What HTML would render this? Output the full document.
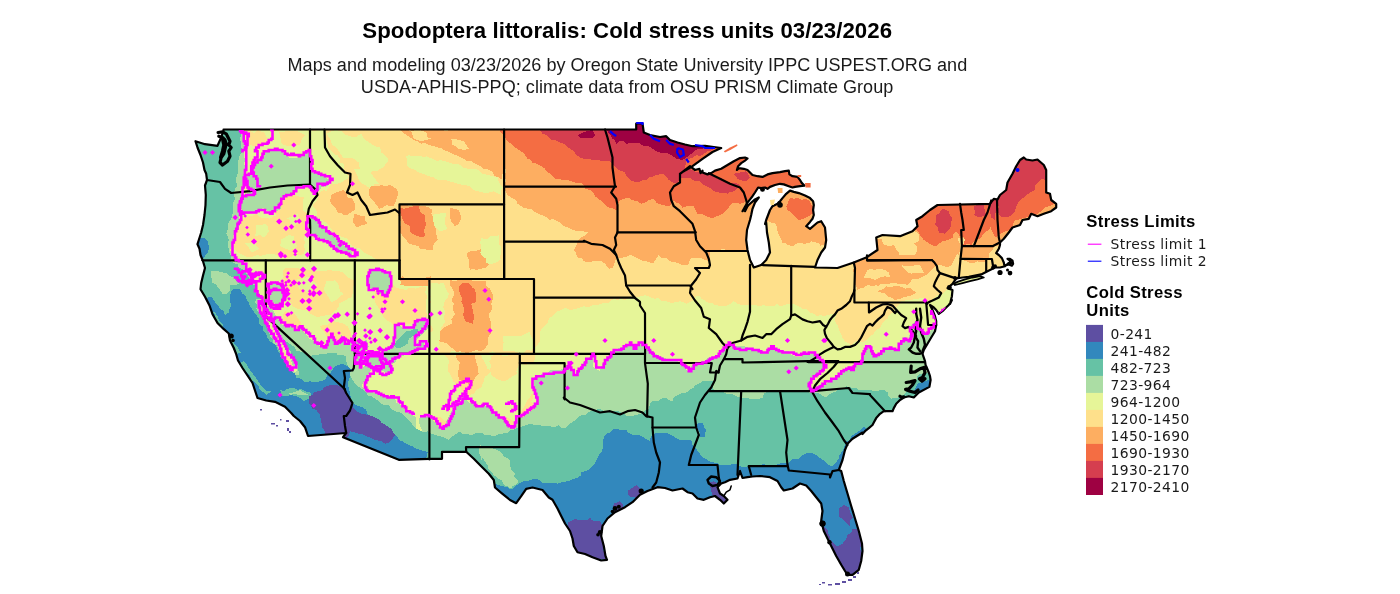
<!DOCTYPE html>
<html><head><meta charset="utf-8"><title>Spodoptera littoralis: Cold stress units</title>
<style>html,body{margin:0;padding:0;background:#fff}svg{display:block}</style></head>
<body>
<svg width="1400" height="594" viewBox="0 0 1400 594">
<rect width="1400" height="594" fill="#fff"/>
<defs><clipPath id="us"><path d="M223.5,129.5 L636.2,129.5 L636.2,123.5 L642.5,123.5 L643.8,132.5 L650,135 L660,137 L666.2,136.2 L670,140 L677.5,142.5 L685,144.5 L692.5,146.2 L705,145.8 L713.8,147 L721.2,148 L712.5,152 L702.5,158.8 L692.5,166.2 L683.8,171.2 L680,173.8 L690,166.2 L695,170 L699.4,168.8 L700.6,173.1 L702.5,170.6 L702.5,172.5 L707.5,174.4 L711.2,173.1 L715,170.6 L721.2,168.8 L727.5,165 L733.8,161.2 L740,158.1 L745,157.5 L747.5,158.5 L745,160.6 L741.2,163.1 L738.1,166.2 L736.9,170 L738.8,168.1 L743.8,168.8 L747.5,170 L750,172.5 L752.5,175 L757.5,176.2 L762.5,176.9 L767.5,174.4 L772.5,173.1 L780,172.2 L785,171.2 L788.8,170.6 L789.4,174.4 L792.5,176.2 L797.5,176.9 L800,180 L801.9,183.1 L804.4,185.6 L800,186.2 L795,186.9 L792.5,187.5 L788.8,186.2 L783.8,184.4 L780,183.8 L775,185 L770,186.9 L767.5,188.8 L765,187.5 L761.2,188.1 L758.1,187.5 L755,192.5 L752.5,196.2 L750,199.4 L747.5,202.5 L745,206.9 L742.5,211.2 L745.6,207.8 L750,203.8 L755,199.4 L758.8,197.5 L755,202.5 L752.5,208.8 L751.2,215 L750,220 L748.8,224 L747,230 L746.2,240 L747.5,250 L750,260 L753.8,267.5 L761.2,265 L766.2,260 L770,252.5 L768.8,242.5 L767,232.5 L766.2,222.5 L765,224 L766.2,220 L768.1,215 L770,210 L772.5,206.2 L777.5,203.8 L780,201.2 L782.5,198.1 L786.2,193.8 L790,190.6 L793.8,191.9 L798.8,193.1 L805,195.6 L810,198.1 L813.1,201.2 L813.8,205 L813.1,210 L813.8,215 L812.5,218.8 L810,221.9 L806.2,226.2 L810,228.8 L817.5,222.5 L821.2,221.2 L825,227.5 L826.2,240 L825,247.5 L821.2,252.5 L817.5,260 L815,267.5 L837.5,268 L853.8,262.5 L866.2,257.5 L877.5,250 L876.2,237.5 L882.5,235 L900,236.2 L912.5,231.2 L917.5,226.2 L916.2,220 L922.5,216.2 L930,210 L937.5,205 L990,203.8 L993.8,198.8 L997.5,199.5 L1000,195 L1006.2,190 L1007.5,182.5 L1012.5,173.8 L1016.2,166.2 L1020,160 L1023.8,157.5 L1026.2,159.5 L1032.5,160.5 L1037.5,159.5 L1043.8,165 L1046.2,170 L1046.2,192.5 L1050,193.8 L1051.2,200 L1056.2,203.8 L1056.2,207.5 L1051.2,211.2 L1043.8,213.8 L1037.5,216.2 L1031.2,213.8 L1028.8,218.8 L1022.5,220 L1020,225 L1012.5,227.5 L1008.8,232.5 L1003.8,238.8 L1000,242.5 L1000,243.1 L1000,245 L998.8,248.8 L996.2,253.1 L998.8,255 L1001.9,258.1 L1003.8,262.5 L1004.4,265.6 L1008.8,264.4 L1011.9,265.6 L1013.1,263.8 L1012.5,260.6 L1010,258.8 L1007.5,258.8 L1010,260.6 L1011,263.1 L1008.8,262.8 L1005,266.2 L1000,267.5 L995,267.5 L992.5,268.8 L987.5,271.2 L981.2,274.4 L975,275.6 L968.8,276.9 L962.5,277.5 L956.2,278.5 L952.5,283.8 L947.5,288.1 L952.5,290 L951.9,296.2 L950,304 L951.9,300 L948.8,305 L946.2,307.5 L942.5,311.2 L938.8,313.8 L936.2,310 L933.8,307.5 L930,305 L932.5,310 L935,316.2 L936.2,321.2 L936.2,325 L935,331.2 L931.2,337.5 L927.5,343.8 L923.8,350 L922.5,353.8 L925,361.2 L926.2,369 L926.2,366.2 L928.8,372.5 L930,376.2 L930.6,380 L929.4,386.9 L918.8,392.5 L913.8,397.5 L908.8,396.2 L903.8,397.5 L900,400 L896.2,403.8 L893.8,408.1 L892.5,411.2 L883.8,411.2 L880,413.8 L876.2,418.1 L873.8,422.5 L872.5,425 L868.8,428.1 L865,431.2 L862.5,434 L862.5,432.5 L852.5,438.8 L847.5,443.8 L845,450 L842.5,460 L838.8,470 L841.2,471 L843.8,481 L847.5,493.5 L851.2,506 L855,518.5 L858.8,531 L862,543.5 L862.5,551 L861.2,561 L858.8,569.8 L852.5,574.8 L847.5,574.8 L845,571 L841.2,564.8 L836.2,556 L831.2,546 L827.5,538.5 L823.8,531 L821.2,521 L822.5,511 L821.2,503.5 L816.2,497.2 L811.2,491 L806.2,485.5 L800,483.5 L792.5,488.5 L783.8,490.5 L781.2,487.2 L777.5,481 L770,477.2 L760,476 L752.5,476.5 L747.5,477.2 L742.5,478 L740,471 L737.5,478.5 L730,479.8 L725,482.2 L721.2,483.5 L717.5,487.2 L720,493.5 L723.8,496 L727.5,499.8 L723.8,503.5 L720,499.8 L715,496 L710,497.2 L703.8,499.8 L697.5,498.5 L692.5,493.5 L687.5,492.2 L682.5,488.5 L672.5,490.5 L665,488 L657.5,487.2 L647.5,491 L640,494.8 L632.5,502.2 L625,507.2 L615,512.2 L607.5,518.5 L602.5,526 L601.2,536 L603.8,546 L605.5,556 L607,559.8 L601.2,560.5 L592.5,557.2 L585,554 L577.5,552.2 L573.8,546 L572.5,538.5 L570,531 L565,523.5 L561.2,516 L557.5,508.5 L552.5,499.8 L548.8,497.5 L542.5,490 L532.5,487.5 L526.2,488.8 L521.2,496.2 L516.2,503.2 L510,500 L502.5,493.8 L495,487.5 L493.8,480 L488.8,473.8 L481.2,466.2 L473.8,458.8 L466.2,451.8 L442,451.8 L442,458.8 L429.2,458.8 L398.8,459.8 L343,437.2 L346.2,433 L308,436 L305,427.2 L300,421 L293.8,416 L291.2,413 L285,406.8 L275,401.8 L266.2,400.5 L257.5,398 L255,390.5 L252.5,383 L247.5,375.5 L242.5,368 L238,360.5 L236.2,354.2 L233.8,348 L230,340.5 L228.8,333.5 L223.8,329.2 L217.5,323 L212.5,314.2 L209.5,305.5 L205,296.8 L200.5,289.2 L201.2,283 L203,275.5 L205,268 L203,261.2 L200.5,255 L199.5,248.8 L197.5,244.2 L198.8,240 L201.2,232.5 L203,225 L204.5,215 L205.5,205 L205.8,195 L205,185.5 L207,180 L206.2,173.8 L204.5,170 L203,162.5 L200.5,155 L197.5,147.5 L195.5,141.2 L205,144.2 L217.5,145.8 L221.2,137.5 L223.8,129.5Z"/></clipPath></defs>
<g clip-path="url(#us)" shape-rendering="crispEdges">
<rect width="1400" height="594" fill="#FEE08B"/>
<path d="M233.75,128.75 238.75,130 242.5,130 247.5,130 248.75,128.75 250,131.25 256.25,130 258.75,130 261.25,128.75 265,128.75 270,130 272.5,131.25 276.25,131.25 281.25,130 285,128.75 286.25,128.75 291.25,128.75 293.75,130 298.75,128.75 302.5,130 307.5,128.75 310,130 313.75,131.25 317.5,130 320,130 323.75,128.75 326.25,132.5 326.25,138.75 327.5,143.75 327.5,146.25 330,150 332.5,152.5 335,155 337.5,155 340,158.75 340,162.5 343.75,163.75 343.75,168.75 345,171.25 348.75,176.25 347.5,178.75 345,180 341.25,182.5 337.5,183.75 332.5,183.75 331.25,183.75 328.75,187.5 326.25,191.25 322.5,196.25 317.5,200 316.25,201.25 312.5,205 313.75,207.5 316.25,210 317.5,216.25 320,218.75 323.75,221.25 326.25,222.5 328.75,225 330,227.5 333.75,232.5 337.5,235 340,236.25 343.75,237.5 347.5,238.75 348.75,241.25 351.25,245 356.25,247.5 357.5,247.5 360,248.75 363.75,252.5 368.75,255 371.25,256.25 375,258.75 377.5,260 380,261.25 383.75,261.25 387.5,261.25 392.5,261.25 398.75,261.25 397.5,263.75 397.5,266.25 397.5,271.25 397.5,275 398.75,278.75 401.25,278.75 405,277.5 408.75,280 412.5,278.75 416.25,278.75 421.25,280 423.75,278.75 427.5,278.75 427.5,282.5 427.5,287.5 427.5,292.5 431.25,295 432.5,300 433.75,305 438.75,306.25 443.75,307.5 445,312.5 443.75,317.5 445,321.25 445,325 447.5,326.25 445,328.75 443.75,333.75 442.5,338.75 441.25,343.75 440,346.25 437.5,351.25 437.5,355 432.5,357.5 431.25,361.25 432.5,362.5 432.5,366.25 433.75,368.75 431.25,375 430,377.5 430,382.5 431.25,387.5 430,388.75 430,392.5 430,397.5 431.25,398.75 430,401.25 430,406.25 430,410 428.75,415 428.75,418.75 430,420 430,425 428.75,427.5 428.75,431.25 428.75,433.75 428.75,436.25 428.75,441.25 431.25,443.75 428.75,447.5 431.25,450 431.25,453.75 430,456.25 430,460 431.25,465 430,467.5 431.25,471.25 431.25,477.5 431.25,480 428.75,478.75 425,480 421.25,478.75 416.25,478.75 413.75,480 410,481.25 406.25,480 402.5,478.75 397.5,477.5 392.5,478.75 391.25,481.25 387.5,482.5 383.75,481.25 380,481.25 377.5,482.5 375,481.25 372.5,481.25 367.5,482.5 363.75,480 361.25,481.25 357.5,481.25 353.75,480 351.25,480 347.5,480 342.5,481.25 338.75,482.5 333.75,481.25 332.5,480 327.5,480 325,480 321.25,480 318.75,481.25 315,480 312.5,478.75 308.75,481.25 305,481.25 302.5,480 298.75,478.75 293.75,478.75 291.25,478.75 286.25,478.75 282.5,480 281.25,480 275,480 271.25,478.75 267.5,477.5 265,480 262.5,481.25 257.5,482.5 255,480 251.25,478.75 247.5,480 243.75,478.75 241.25,480 236.25,480 233.75,478.75 231.25,477.5 230,475 228.75,471.25 230,467.5 230,463.75 230,462.5 231.25,458.75 232.5,455 230,451.25 232.5,447.5 230,445 231.25,442.5 231.25,438.75 230,435 232.5,431.25 232.5,427.5 230,423.75 230,420 228.75,415 227.5,413.75 228.75,411.25 230,407.5 231.25,405 232.5,401.25 232.5,396.25 232.5,393.75 232.5,391.25 232.5,387.5 231.25,383.75 230,380 231.25,375 230,371.25 230,367.5 228.75,363.75 227.5,360 227.5,356.25 227.5,353.75 228.75,350 231.25,346.25 232.5,342.5 231.25,340 231.25,335 231.25,332.5 231.25,328.75 230,325 231.25,322.5 232.5,320 232.5,315 230,313.75 230,310 231.25,305 230,301.25 228.75,296.25 230,293.75 230,291.25 228.75,287.5 228.75,283.75 228.75,281.25 230,277.5 228.75,275 230,268.75 231.25,266.25 231.25,261.25 228.75,258.75 230,253.75 231.25,250 231.25,248.75 232.5,246.25 230,242.5 228.75,240 227.5,233.75 230,230 230,228.75 230,225 231.25,222.5 231.25,216.25 232.5,213.75 231.25,211.25 230,206.25 228.75,202.5 228.75,198.75 228.75,195 227.5,193.75 227.5,191.25 228.75,186.25 227.5,182.5 227.5,178.75 230,176.25 231.25,172.5 231.25,170 232.5,165 232.5,162.5 231.25,158.75 230,153.75 227.5,151.25 228.75,148.75 231.25,143.75 231.25,141.25 231.25,136.25 232.5,132.5 231.25,131.25Z" fill="#E6F598"/>
<path d="M247.5,130 252.5,132.5 255,132.5 257.5,130 260,131.25 263.75,132.5 265,133.75 267.5,138.75 266.25,141.25 263.75,146.25 258.75,146.25 253.75,146.25 250,145 248.75,143.75 248.75,138.75 247.5,135Z" fill="#FEE08B"/>
<path d="M278.75,131.25 281.25,132.5 286.25,131.25 290,131.25 292.5,131.25 297.5,131.25 302.5,133.75 305,135 301.25,140 300,145 295,145 288.75,146.25 283.75,145 281.25,142.5 280,135Z" fill="#FEE08B"/>
<path d="M276.25,197.5 280,197.5 282.5,195 286.25,193.75 290,195 295,195 297.5,196.25 303.75,197.5 302.5,202.5 302.5,207.5 302.5,211.25 302.5,215 300,218.75 297.5,221.25 291.25,221.25 287.5,225 285,222.5 280,218.75 276.25,218.75 276.25,216.25 275,212.5 272.5,208.75 272.5,202.5Z" fill="#FEE08B"/>
<path d="M243.75,218.75 248.75,216.25 251.25,216.25 256.25,213.75 258.75,216.25 261.25,217.5 265,217.5 270,218.75 273.75,216.25 277.5,215 281.25,213.75 285,211.25 287.5,210 291.25,210 297.5,208.75 300,210 306.25,212.5 307.5,215 307.5,217.5 307.5,222.5 307.5,226.25 308.75,232.5 306.25,235 303.75,237.5 303.75,240 305,242.5 303.75,246.25 305,248.75 303.75,253.75 301.25,255 297.5,255 295,255 292.5,256.25 290,257.5 286.25,257.5 281.25,257.5 276.25,255 273.75,253.75 268.75,253.75 263.75,255 260,256.25 257.5,255 253.75,256.25 251.25,257.5 245,256.25 240,253.75 236.25,251.25 233.75,246.25 232.5,242.5 233.75,237.5 233.75,233.75 235,230 236.25,225 237.5,222.5 238.75,221.25Z" fill="#FEE08B"/>
<path d="M256.25,225 261.25,225 265,223.75 267.5,226.25 268.75,231.25 266.25,235 263.75,237.5 260,235 255,236.25 256.25,230Z" fill="#E6F598"/>
<path d="M281.25,238.75 282.5,238.75 288.75,235 293.75,236.25 293.75,240 295,242.5 297.5,246.25 295,248.75 290,250 285,248.75 280,246.25 281.25,241.25Z" fill="#E6F598"/>
<path d="M243.75,242.5 251.25,242.5 255,240 256.25,246.25 258.75,248.75 255,251.25 251.25,252.5 248.75,247.5 247.5,246.25Z" fill="#E6F598"/>
<path d="M286.25,218.75 292.5,216.25 297.5,213.75 298.75,217.5 300,222.5 296.25,223.75 293.75,227.5 290,223.75 290,220Z" fill="#E6F598"/>
<path d="M318.75,192.5 323.75,190 327.5,191.25 331.25,188.75 336.25,187.5 338.75,190 342.5,192.5 347.5,193.75 351.25,193.75 352.5,196.25 357.5,198.75 358.75,201.25 362.5,205 365,207.5 366.25,208.75 366.25,213.75 368.75,215 373.75,216.25 378.75,216.25 383.75,216.25 387.5,216.25 391.25,213.75 393.75,213.75 398.75,215 398.75,218.75 398.75,223.75 398.75,226.25 397.5,230 393.75,231.25 392.5,231.25 388.75,230 385,232.5 381.25,232.5 376.25,231.25 371.25,231.25 368.75,232.5 366.25,230 361.25,232.5 357.5,235 355,235 352.5,233.75 348.75,232.5 345,232.5 338.75,227.5 333.75,226.25 331.25,223.75 327.5,218.75 327.5,216.25 323.75,211.25 322.5,210 318.75,207.5 315,203.75 317.5,198.75Z" fill="#FEE08B"/>
<path d="M331.25,195 336.25,192.5 340,191.25 343.75,190 346.25,192.5 347.5,197.5 352.5,198.75 355,203.75 355,210 352.5,211.25 347.5,215 343.75,215 340,212.5 337.5,212.5 335,207.5 331.25,203.75 330,201.25Z" fill="#FDAE61"/>
<path d="M353.75,213.75 358.75,215 361.25,216.25 365,216.25 365,220 367.5,223.75 362.5,225 356.25,227.5 355,225 352.5,221.25 353.75,217.5Z" fill="#FDAE61"/>
<path d="M370,235 373.75,236.25 378.75,236.25 381.25,233.75 383.75,233.75 390,233.75 392.5,232.5 395,232.5 400,231.25 400,235 400,238.75 397.5,243.75 397.5,247.5 400,252.5 401.25,256.25 398.75,258.75 396.25,258.75 390,260 387.5,260 383.75,258.75 380,257.5 377.5,256.25 373.75,252.5 372.5,251.25 371.25,246.25 371.25,241.25 368.75,238.75Z" fill="#FEE08B"/>
<path d="M326.25,133.75 331.25,131.25 336.25,130 341.25,131.25 343.75,133.75 346.25,135 350,136.25 355,137.5 361.25,133.75 363.75,138.75 367.5,141.25 371.25,143.75 372.5,145 375,146.25 380,147.5 381.25,152.5 386.25,156.25 388.75,160 385,165 382.5,167.5 380,168.75 377.5,171.25 372.5,171.25 368.75,172.5 365,171.25 361.25,170 358.75,166.25 358.75,162.5 355,160 353.75,158.75 348.75,157.5 342.5,157.5 341.25,155 338.75,151.25 336.25,147.5 332.5,145 330,138.75 327.5,135Z" fill="#E6F598"/>
<path d="M353.75,168.75 358.75,168.75 362.5,170 368.75,172.5 370,171.25 373.75,177.5 375,178.75 378.75,183.75 375,183.75 371.25,188.75 366.25,186.25 365,185 362.5,183.75 358.75,180 357.5,176.25Z" fill="#E6F598"/>
<path d="M406.25,156.25 408.75,155 412.5,156.25 418.75,156.25 421.25,156.25 425,157.5 426.25,156.25 432.5,158.75 437.5,161.25 440,160 445,161.25 448.75,162.5 452.5,163.75 456.25,163.75 460,165 462.5,167.5 467.5,168.75 470,168.75 475,168.75 477.5,170 480,171.25 482.5,173.75 488.75,175 492.5,176.25 497.5,177.5 498.75,182.5 502.5,187.5 501.25,190 501.25,195 496.25,192.5 493.75,191.25 488.75,192.5 487.5,192.5 482.5,192.5 477.5,191.25 473.75,190 470,186.25 465,185 461.25,185 460,183.75 457.5,183.75 453.75,182.5 448.75,181.25 445,180 442.5,180 437.5,180 433.75,177.5 428.75,176.25 423.75,173.75 422.5,173.75 418.75,172.5 415,170 408.75,167.5 406.25,165 407.5,162.5Z" fill="#E6F598"/>
<path d="M396.25,130 400,130 402.5,132.5 406.25,135 408.75,136.25 413.75,140 417.5,141.25 421.25,143.75 423.75,142.5 428.75,145 433.75,146.25 437.5,147.5 441.25,147.5 443.75,150 447.5,151.25 452.5,153.75 455,155 458.75,156.25 463.75,158.75 466.25,161.25 471.25,161.25 475,163.75 478.75,165 483.75,168.75 486.25,168.75 491.25,171.25 492.5,172.5 495,176.25 498.75,177.5 501.25,180 502.5,173.75 503.75,171.25 503.75,167.5 505,163.75 505,161.25 505,156.25 503.75,152.5 505,150 503.75,145 503.75,140 505,135 503.75,131.25 502.5,130 498.75,128.75 497.5,130 492.5,128.75 487.5,128.75 485,128.75 483.75,127.5 478.75,127.5 475,128.75 472.5,127.5 467.5,127.5 463.75,128.75 460,130 456.25,128.75 453.75,128.75 448.75,130 446.25,131.25 442.5,130 440,130 436.25,130 433.75,130 428.75,128.75 426.25,127.5 422.5,130 420,127.5 416.25,128.75 411.25,130 410,131.25 407.5,130 402.5,127.5 398.75,128.75Z" fill="#FDAE61"/>
<path d="M411.25,131.25 415,130 418.75,130 423.75,131.25 426.25,132.5 427.5,137.5 431.25,138.75 426.25,140 420,141.25 417.5,140 413.75,138.75Z" fill="#FEE08B"/>
<path d="M451.25,138.75 453.75,138.75 458.75,140 463.75,141.25 466.25,145 468.75,148.75 463.75,150 458.75,148.75 453.75,145 452.5,145Z" fill="#FEE08B"/>
<path d="M371.25,186.25 375,186.25 378.75,186.25 381.25,185 385,186.25 390,185 392.5,186.25 396.25,188.75 397.5,191.25 397.5,196.25 396.25,200 393.75,206.25 390,206.25 386.25,205 382.5,207.5 378.75,208.75 377.5,206.25 373.75,201.25 370,197.5 368.75,193.75 368.75,190Z" fill="#FDAE61"/>
<path d="M400,203.75 405,203.75 408.75,206.25 410,206.25 413.75,205 417.5,205 423.75,206.25 425,206.25 428.75,207.5 432.5,210 431.25,213.75 433.75,217.5 433.75,222.5 433.75,225 436.25,230 436.25,233.75 437.5,238.75 437.5,240 433.75,243.75 432.5,248.75 432.5,250 427.5,250 423.75,248.75 420,248.75 418.75,246.25 413.75,245 408.75,243.75 406.25,240 402.5,236.25 401.25,233.75 398.75,230 401.25,223.75 400,218.75 398.75,217.5 397.5,212.5 398.75,208.75Z" fill="#FDAE61"/>
<path d="M400,207.5 403.75,208.75 408.75,207.5 413.75,206.25 418.75,206.25 420,211.25 422.5,213.75 425,215 425,221.25 426.25,223.75 425,227.5 423.75,230 425,235 423.75,237.5 417.5,236.25 412.5,233.75 410,231.25 410,226.25 405,223.75 402.5,218.75 401.25,215 400,212.5Z" fill="#F46D43"/>
<path d="M450,207.5 453.75,208.75 458.75,210 460,213.75 461.25,217.5 460,221.25 458.75,223.75 455,226.25 451.25,221.25 450,217.5 450,213.75Z" fill="#FDAE61"/>
<path d="M466.25,253.75 470,251.25 475,251.25 478.75,250 482.5,248.75 485,247.5 486.25,250 488.75,252.5 492.5,255 493.75,258.75 493.75,260 488.75,265 485,268.75 482.5,267.5 481.25,268.75 476.25,270 472.5,268.75 470,270 468.75,265 468.75,260Z" fill="#FDAE61"/>
<path d="M481.25,237.5 483.75,238.75 487.5,238.75 490,236.25 496.25,236.25 498.75,235 498.75,237.5 498.75,241.25 498.75,243.75 501.25,247.5 501.25,251.25 500,257.5 501.25,261.25 500,260 496.25,262.5 492.5,263.75 488.75,263.75 486.25,262.5 486.25,258.75 482.5,256.25 480,252.5 481.25,250 481.25,247.5 480,242.5Z" fill="#E6F598"/>
<path d="M433.75,213.75 438.75,213.75 442.5,212.5 446.25,213.75 445,218.75 445,223.75 447.5,228.75 445,230 440,231.25 436.25,227.5 433.75,225 433.75,222.5 432.5,220Z" fill="#E6F598"/>
<path d="M375,287.5 378.75,287.5 382.5,286.25 383.75,285 388.75,283.75 392.5,283.75 396.25,287.5 400,288.75 406.25,290 408.75,287.5 413.75,287.5 415,288.75 418.75,287.5 422.5,286.25 426.25,287.5 425,292.5 427.5,296.25 426.25,300 426.25,303.75 426.25,308.75 426.25,312.5 427.5,317.5 423.75,316.25 421.25,318.75 417.5,317.5 416.25,320 413.75,322.5 410,323.75 407.5,323.75 402.5,326.25 397.5,328.75 395,327.5 392.5,323.75 388.75,321.25 386.25,320 383.75,317.5 381.25,312.5 380,310 377.5,306.25 375,302.5 373.75,296.25 375,293.75Z" fill="#FEE08B"/>
<path d="M398.75,278.75 402.5,276.25 405,278.75 410,277.5 415,280 417.5,280 421.25,280 426.25,277.5 431.25,276.25 430,281.25 431.25,283.75 428.75,286.25 425,286.25 420,286.25 416.25,286.25 411.25,286.25 406.25,286.25 402.5,285 400,285 401.25,282.5Z" fill="#FDAE61"/>
<path d="M431.25,278.75 435,278.75 436.25,277.5 440,277.5 445,280 447.5,278.75 446.25,282.5 446.25,288.75 447.5,292.5 446.25,296.25 448.75,301.25 445,303.75 443.75,307.5 442.5,310 441.25,312.5 440,316.25 438.75,320 437.5,325 436.25,328.75 430,332.5 430,327.5 428.75,325 428.75,321.25 430,318.75 431.25,315 432.5,311.25 431.25,307.5 432.5,306.25 430,302.5 431.25,298.75 430,295 430,292.5 428.75,286.25 427.5,283.75Z" fill="#FEE08B"/>
<path d="M447.5,281.25 450,282.5 455,282.5 458.75,281.25 463.75,278.75 466.25,278.75 470,278.75 473.75,278.75 477.5,280 478.75,278.75 481.25,278.75 486.25,277.5 491.25,278.75 493.75,277.5 496.25,278.75 498.75,280 502.5,278.75 506.25,280 511.25,278.75 515,277.5 520,277.5 522.5,278.75 526.25,278.75 531.25,278.75 535,278.75 533.75,283.75 532.5,286.25 533.75,291.25 531.25,293.75 531.25,298.75 531.25,300 532.5,302.5 531.25,308.75 531.25,311.25 530,315 531.25,317.5 531.25,321.25 532.5,323.75 531.25,327.5 530,331.25 527.5,332.5 522.5,333.75 520,335 515,333.75 513.75,335 507.5,336.25 502.5,336.25 503.75,340 503.75,342.5 501.25,346.25 502.5,351.25 498.75,352.5 495,353.75 491.25,353.75 488.75,357.5 486.25,361.25 487.5,365 487.5,367.5 487.5,371.25 485,373.75 483.75,377.5 480,381.25 473.75,383.75 467.5,383.75 465,382.5 461.25,381.25 457.5,381.25 456.25,378.75 456.25,376.25 455,372.5 453.75,367.5 451.25,363.75 450,358.75 450,355 448.75,351.25 443.75,352.5 438.75,351.25 440,347.5 438.75,342.5 438.75,337.5 438.75,335 440,331.25 441.25,327.5 443.75,323.75 446.25,320 448.75,317.5 447.5,313.75 446.25,312.5 446.25,307.5 447.5,305 446.25,302.5 446.25,298.75 445,293.75 447.5,291.25 448.75,287.5 450,283.75Z" fill="#FEE08B"/>
<path d="M450,280 455,281.25 458.75,280 461.25,278.75 467.5,280 471.25,280 472.5,281.25 477.5,281.25 481.25,281.25 486.25,281.25 486.25,286.25 490,288.75 492.5,293.75 492.5,296.25 492.5,300 491.25,303.75 492.5,308.75 490,312.5 488.75,313.75 488.75,316.25 490,318.75 491.25,325 491.25,327.5 491.25,332.5 488.75,336.25 487.5,341.25 487.5,345 485,348.75 481.25,351.25 476.25,350 472.5,351.25 468.75,352.5 465,352.5 460,351.25 456.25,352.5 453.75,348.75 451.25,347.5 447.5,343.75 443.75,342.5 438.75,341.25 438.75,336.25 440,331.25 443.75,327.5 448.75,325 452.5,323.75 451.25,318.75 452.5,317.5 455,313.75 452.5,308.75 453.75,303.75 451.25,300 453.75,295 453.75,291.25 452.5,288.75 450,285Z" fill="#FDAE61"/>
<path d="M460,285 463.75,282.5 470,283.75 472.5,287.5 475,290 476.25,295 476.25,300 475,302.5 471.25,303.75 472.5,308.75 473.75,315 473.75,320 472.5,320 472.5,323.75 465,321.25 463.75,316.25 462.5,315 463.75,312.5 463.75,307.5 461.25,301.25 462.5,298.75 461.25,296.25 460,293.75 458.75,288.75Z" fill="#F46D43"/>
<path d="M455,353.75 460,355 462.5,355 467.5,355 468.75,355 472.5,358.75 475,361.25 473.75,365 473.75,368.75 473.75,372.5 468.75,370 463.75,368.75 461.25,365 458.75,362.5 456.25,360Z" fill="#FDAE61"/>
<path d="M502.5,336.25 507.5,336.25 510,336.25 513.75,336.25 518.75,336.25 523.75,335 525,333.75 527.5,332.5 530,331.25 530,333.75 532.5,338.75 532.5,345 532.5,348.75 531.25,351.25 528.75,350 526.25,350 523.75,352.5 517.5,352.5 513.75,351.25 508.75,351.25 505,351.25 502.5,351.25 502.5,346.25 503.75,342.5 502.5,338.75Z" fill="#E6F598"/>
<path d="M382.5,352.5 385,350 391.25,347.5 393.75,345 393.75,337.5 395,331.25 396.25,325 397.5,323.75 402.5,327.5 407.5,327.5 413.75,325 415,321.25 422.5,321.25 425,321.25 430,322.5 428.75,327.5 423.75,332.5 421.25,335 416.25,340 416.25,345 416.25,347.5 417.5,342.5 423.75,340 423.75,347.5 421.25,350 418.75,348.75 415,351.25 411.25,353.75 406.25,355 401.25,356.25 397.5,357.5 395,362.5 392.5,363.75 387.5,361.25 382.5,365 378.75,370 373.75,367.5 370,363.75 366.25,357.5 371.25,353.75 373.75,353.75 380,355Z" fill="#ABDDA4"/>
<path d="M400,337.5 402.5,335 406.25,331.25 410,331.25 413.75,328.75 418.75,328.75 416.25,335 415,335 412.5,336.25 408.75,338.75 407.5,343.75 401.25,347.5 396.25,347.5 393.75,345 397.5,340Z" fill="#66C2A5"/>
<path d="M368.75,271.25 372.5,271.25 376.25,270 380,267.5 386.25,272.5 388.75,273.75 391.25,278.75 391.25,282.5 392.5,288.75 388.75,292.5 385,296.25 381.25,295 378.75,292.5 377.5,288.75 372.5,288.75 371.25,290 370,286.25 367.5,281.25 366.25,276.25Z" fill="#ABDDA4"/>
<path d="M533.75,297.5 540,296.25 542.5,298.75 548.75,298.75 553.75,300 556.25,298.75 558.75,298.75 561.25,297.5 566.25,297.5 571.25,297.5 575,300 578.75,301.25 581.25,298.75 583.75,297.5 586.25,298.75 588.75,298.75 595,300 598.75,300 600,301.25 602.5,300 608.75,298.75 613.75,300 616.25,301.25 621.25,298.75 625,300 627.5,300 630,300 635,298.75 636.25,303.75 637.5,308.75 632.5,310 628.75,310 623.75,307.5 620,306.25 617.5,307.5 613.75,308.75 608.75,310 606.25,307.5 602.5,307.5 598.75,308.75 595,310 590,308.75 588.75,308.75 585,308.75 580,310 577.5,311.25 571.25,311.25 570,311.25 565,312.5 561.25,311.25 556.25,310 555,311.25 553.75,316.25 553.75,318.75 553.75,322.5 551.25,328.75 548.75,332.5 546.25,331.25 543.75,332.5 538.75,333.75 533.75,333.75 536.25,331.25 535,328.75 535,325 533.75,320 533.75,316.25 536.25,312.5 535,308.75 535,303.75 536.25,300Z" fill="#FEE08B"/>
<path d="M283.75,268.75 288.75,267.5 293.75,267.5 296.25,267.5 300,268.75 306.25,270 310,270 315,271.25 316.25,271.25 321.25,271.25 325,271.25 327.5,270 331.25,270 333.75,271.25 338.75,271.25 342.5,272.5 346.25,276.25 350,278.75 353.75,280 353.75,281.25 353.75,285 352.5,288.75 352.5,293.75 351.25,297.5 347.5,298.75 346.25,300 343.75,301.25 338.75,303.75 338.75,306.25 336.25,310 333.75,311.25 330,315 326.25,315 323.75,316.25 320,316.25 317.5,317.5 312.5,315 310,313.75 306.25,310 302.5,310 297.5,308.75 292.5,306.25 290,301.25 290,296.25 286.25,291.25 285,287.5 283.75,283.75 282.5,280 283.75,276.25 282.5,272.5Z" fill="#FEE08B"/>
<path d="M296.25,278.75 301.25,278.75 306.25,277.5 311.25,276.25 312.5,281.25 315,282.5 317.5,285 315,288.75 310,290 307.5,292.5 302.5,288.75 298.75,288.75 297.5,281.25Z" fill="#E6F598"/>
<path d="M326.25,281.25 328.75,281.25 331.25,281.25 335,280 338.75,285 340,291.25 343.75,293.75 338.75,297.5 336.25,300 331.25,302.5 328.75,297.5 326.25,293.75 323.75,290Z" fill="#E6F598"/>
<path d="M285,311.25 290,312.5 295,313.75 297.5,317.5 300,321.25 301.25,323.75 302.5,327.5 306.25,330 303.75,332.5 300,336.25 296.25,338.75 292.5,335 288.75,333.75 287.5,332.5 286.25,328.75 285,325 282.5,320 282.5,316.25Z" fill="#FEE08B"/>
<path d="M320,326.25 323.75,325 327.5,325 330,322.5 333.75,321.25 338.75,322.5 341.25,322.5 343.75,323.75 347.5,326.25 350,331.25 351.25,332.5 351.25,337.5 350,341.25 347.5,341.25 345,343.75 341.25,342.5 336.25,341.25 330,337.5 326.25,336.25 325,332.5 322.5,330 320,326.25Z" fill="#FEE08B"/>
<path d="M247.5,185 243.75,180 242.5,177.5 248.75,175 251.25,171.25 253.75,165 256.25,163.75 258.75,158.75 261.25,157.5 261.25,155 266.25,151.25 270,148.75 273.75,150 281.25,151.25 285,153.75 288.75,157.5 293.75,157.5 297.5,157.5 303.75,155 308.75,150 310,153.75 310,158.75 310,165 310,171.25 315,173.75 320,172.5 323.75,175 327.5,178.75 332.5,180 327.5,186.25 325,186.25 321.25,187.5 317.5,192.5 315,195 311.25,190 307.5,187.5 305,186.25 301.25,186.25 298.75,186.25 297.5,188.75 295,191.25 291.25,193.75 286.25,193.75 283.75,196.25 281.25,201.25 281.25,205 281.25,208.75 276.25,211.25 272.5,213.75 268.75,211.25 265,210 262.5,207.5 258.75,211.25 255,212.5 248.75,213.75 245,213.75 240,207.5 238.75,202.5 238.75,198.75 241.25,195 246.25,193.75 251.25,191.25 255,188.75 252.5,188.75 247.5,186.25Z" fill="#ABDDA4"/>
<path d="M308.75,216.25 313.75,218.75 318.75,218.75 320,222.5 321.25,223.75 323.75,226.25 328.75,231.25 330,233.75 331.25,235 333.75,237.5 338.75,240 342.5,243.75 345,246.25 347.5,247.5 351.25,251.25 352.5,255 355,255 350,255 345,253.75 345,252.5 340,251.25 336.25,251.25 332.5,247.5 328.75,245 325,241.25 323.75,240 320,238.75 317.5,236.25 315,235 310,232.5 310,228.75 306.25,223.75Z" fill="#ABDDA4"/>
<path d="M268.75,283.75 273.75,282.5 275,281.25 280,282.5 285,285 285,288.75 285,293.75 285,296.25 283.75,300 281.25,302.5 278.75,305 277.5,306.25 276.25,306.25 275,303.75 270,300 270,296.25 270,291.25 270,286.25Z" fill="#ABDDA4"/>
<path d="M353.75,355 358.75,352.5 362.5,353.75 366.25,352.5 371.25,352.5 377.5,353.75 381.25,357.5 385,357.5 385,361.25 387.5,362.5 391.25,367.5 393.75,370 390,371.25 387.5,372.5 382.5,371.25 380,370 375,368.75 370,366.25 363.75,363.75 357.5,362.5 353.75,362.5 355,357.5Z" fill="#ABDDA4"/>
<path d="M428.75,351.25 433.75,352.5 436.25,352.5 441.25,353.75 445,352.5 448.75,353.75 451.25,351.25 453.75,351.25 457.5,352.5 460,351.25 462.5,353.75 467.5,355 471.25,353.75 473.75,353.75 477.5,355 482.5,353.75 487.5,353.75 488.75,352.5 492.5,351.25 495,352.5 498.75,352.5 503.75,355 507.5,355 510,355 512.5,355 516.25,355 518.75,356.25 518.75,360 518.75,363.75 521.25,363.75 526.25,365 530,362.5 535,362.5 537.5,362.5 541.25,363.75 543.75,362.5 547.5,362.5 550,363.75 553.75,362.5 558.75,362.5 561.25,361.25 562.5,366.25 562.5,368.75 563.75,373.75 563.75,376.25 561.25,380 560,381.25 556.25,385 553.75,387.5 548.75,385 543.75,383.75 537.5,381.25 536.25,386.25 536.25,388.75 535,392.5 531.25,393.75 530,397.5 527.5,400 525,405 523.75,407.5 521.25,411.25 518.75,416.25 516.25,422.5 512.5,421.25 510,418.75 506.25,417.5 502.5,416.25 498.75,416.25 492.5,413.75 487.5,412.5 486.25,411.25 485,411.25 480,410 476.25,408.75 472.5,406.25 466.25,405 462.5,408.75 462.5,410 461.25,412.5 457.5,413.75 452.5,415 448.75,417.5 445,421.25 441.25,417.5 435,416.25 432.5,417.5 428.75,418.75 428.75,415 430,412.5 428.75,408.75 430,403.75 430,400 430,397.5 428.75,392.5 428.75,387.5 430,383.75 428.75,382.5 427.5,377.5 428.75,373.75 428.75,371.25 427.5,368.75 426.25,362.5 427.5,361.25 427.5,356.25Z" fill="#E6F598"/>
<path d="M445,355 451.25,353.75 455,356.25 457.5,353.75 461.25,352.5 463.75,355 468.75,356.25 472.5,355 473.75,355 480,352.5 482.5,358.75 485,362.5 487.5,368.75 491.25,371.25 487.5,375 485,376.25 483.75,381.25 482.5,383.75 481.25,387.5 476.25,390 473.75,393.75 471.25,393.75 467.5,397.5 466.25,393.75 461.25,390 460,387.5 455,385 455,382.5 452.5,381.25 452.5,378.75 450,373.75 447.5,371.25 447.5,366.25 448.75,363.75 448.75,360Z" fill="#FEE08B"/>
<path d="M455,353.75 457.5,352.5 463.75,353.75 467.5,352.5 472.5,352.5 475,353.75 475,357.5 476.25,362.5 477.5,366.25 477.5,368.75 478.75,373.75 476.25,376.25 473.75,380 472.5,382.5 471.25,386.25 468.75,383.75 463.75,381.25 458.75,380 458.75,377.5 457.5,375 458.75,368.75 458.75,365 460,362.5 457.5,360Z" fill="#FDAE61"/>
<path d="M491.25,356.25 493.75,355 497.5,353.75 500,355 503.75,356.25 510,355 515,353.75 520,352.5 520,357.5 520,362.5 518.75,365 516.25,371.25 517.5,373.75 512.5,376.25 508.75,378.75 505,381.25 498.75,380 496.25,378.75 491.25,375 490,370 491.25,365 488.75,361.25 491.25,360Z" fill="#FEE08B"/>
<path d="M431.25,282.5 436.25,282.5 438.75,283.75 443.75,282.5 445,286.25 446.25,290 448.75,293.75 447.5,297.5 445,300 443.75,305 442.5,307.5 442.5,311.25 441.25,316.25 438.75,320 440,323.75 438.75,326.25 440,330 440,335 440,338.75 438.75,341.25 438.75,347.5 440,350 433.75,351.25 431.25,351.25 431.25,346.25 431.25,342.5 431.25,337.5 432.5,335 432.5,330 432.5,327.5 430,323.75 430,320 428.75,317.5 430,313.75 430,308.75 431.25,306.25 431.25,301.25 431.25,297.5 430,295 430,290 431.25,287.5 431.25,283.75Z" fill="#E6F598"/>
<path d="M505,190 507.5,195 511.25,197.5 516.25,200 517.5,203.75 521.25,206.25 522.5,207.5 527.5,208.75 531.25,208.75 533.75,211.25 536.25,212.5 541.25,215 545,216.25 550,220 552.5,218.75 555,220 560,222.5 563.75,226.25 567.5,227.5 572.5,230 577.5,231.25 582.5,231.25 587.5,232.5 586.25,233.75 583.75,236.25 581.25,237.5 577.5,241.25 576.25,246.25 573.75,250 576.25,252.5 576.25,255 577.5,257.5 582.5,258.75 583.75,261.25 588.75,262.5 592.5,261.25 596.25,261.25 601.25,261.25 605,263.75 608.75,268.75 612.5,267.5 613.75,265 616.25,257.5 622.5,257.5 627.5,256.25 630,255 633.75,256.25 641.25,260 642.5,261.25 646.25,261.25 650,262.5 653.75,262.5 656.25,258.75 658.75,255 661.25,257.5 665,257.5 668.75,260 670,261.25 676.25,262.5 682.5,265 687.5,265 688.75,263.75 690,258.75 695,257.5 700,257.5 702.5,258.75 708.75,261.25 710,257.5 710,251.25 713.75,251.25 716.25,250 718.75,250 723.75,248.75 726.25,251.25 730,250 735,250 737.5,251.25 738.75,251.25 742.5,252.5 747.5,250 751.25,250 755,248.75 757.5,248.75 761.25,247.5 766.25,247.5 770,248.75 775,246.25 778.75,245 781.25,246.25 785,246.25 787.5,245 792.5,246.25 796.25,243.75 798.75,242.5 803.75,243.75 805,243.75 810,242.5 811.25,241.25 816.25,242.5 818.75,242.5 820,245 822.5,250 826.25,252.5 830,252.5 831.25,253.75 836.25,252.5 840,252.5 843.75,256.25 846.25,257.5 850,258.75 852.5,260 853.75,265 853.75,268.75 852.5,271.25 855,273.75 855,278.75 853.75,281.25 856.25,286.25 857.5,290 858.75,288.75 863.75,287.5 867.5,285 872.5,286.25 876.25,285 878.75,286.25 880,283.75 885,283.75 888.75,283.75 892.5,282.5 897.5,283.75 902.5,283.75 907.5,285 910,282.5 912.5,278.75 918.75,278.75 921.25,277.5 926.25,275 927.5,273.75 931.25,270 933.75,267.5 937.5,265 941.25,265 943.75,266.25 947.5,267.5 951.25,265 952.5,262.5 955,257.5 957.5,253.75 960,256.25 962.5,260 966.25,261.25 968.75,262.5 975,262.5 977.5,261.25 981.25,262.5 986.25,261.25 988.75,257.5 988.75,253.75 991.25,251.25 995,246.25 1000,245 1002.5,242.5 1005,238.75 1010,237.5 1013.75,236.25 1015,232.5 1017.5,231.25 1020,230 1025,227.5 1030,227.5 1032.5,226.25 1033.75,225 1037.5,223.75 1041.25,222.5 1043.75,218.75 1047.5,217.5 1050,216.25 1053.75,216.25 1056.25,216.25 1062.5,215 1063.75,211.25 1067.5,208.75 1068.75,210 1072.5,208.75 1077.5,205 1078.75,205 1080,201.25 1080,197.5 1078.75,193.75 1081.25,191.25 1081.25,186.25 1082.5,185 1082.5,181.25 1082.5,178.75 1080,173.75 1080,171.25 1078.75,168.75 1080,163.75 1082.5,158.75 1081.25,155 1082.5,151.25 1081.25,147.5 1082.5,143.75 1081.25,142.5 1080,137.5 1082.5,133.75 1081.25,130 1081.25,126.25 1080,125 1080,121.25 1081.25,117.5 1080,113.75 1080,111.25 1082.5,108.75 1081.25,102.5 1080,98.75 502.5,98.75 503.75,102.5 503.75,106.25 505,108.75 503.75,113.75 505,117.5 505,122.5 503.75,126.25 502.5,131.25 503.75,133.75 505,138.75 503.75,141.25 502.5,143.75 503.75,148.75 505,151.25 503.75,152.5 505,156.25 503.75,160 502.5,163.75 503.75,166.25 506.25,170 505,175 505,177.5 506.25,181.25 503.75,185Z" fill="#FDAE61"/>
<path d="M498.75,126.25 500,131.25 502.5,133.75 505,137.5 507.5,141.25 511.25,143.75 513.75,146.25 518.75,150 522.5,152.5 525,155 527.5,158.75 530,158.75 532.5,162.5 536.25,163.75 541.25,166.25 545,168.75 546.25,171.25 550,173.75 552.5,176.25 555,178.75 557.5,178.75 562.5,180 567.5,180 571.25,181.25 575,182.5 580,182.5 583.75,185 585,188.75 590,190 593.75,193.75 595,196.25 600,200 601.25,201.25 605,205 608.75,207.5 613.75,208.75 616.25,210 617.5,207.5 617.5,205 620,200 623.75,198.75 628.75,197.5 631.25,200 637.5,201.25 641.25,203.75 645,202.5 648.75,200 653.75,198.75 656.25,202.5 658.75,203.75 662.5,205 668.75,206.25 671.25,203.75 672.5,200 676.25,202.5 680,203.75 682.5,207.5 686.25,206.25 690,206.25 693.75,206.25 695,208.75 697.5,213.75 701.25,213.75 706.25,216.25 710,217.5 713.75,217.5 716.25,216.25 720,215 722.5,213.75 726.25,210 728.75,207.5 731.25,203.75 735,202.5 740,203.75 743.75,202.5 747.5,200 750,197.5 756.25,192.5 757.5,191.25 760,190 765,191.25 770,191.25 773.75,191.25 778.75,190 782.5,190 783.75,188.75 788.75,190 790,188.75 793.75,190 798.75,190 802.5,191.25 805,188.75 808.75,188.75 811.25,188.75 815,188.75 821.25,186.25 822.5,183.75 827.5,185 830,183.75 835,185 838.75,183.75 843.75,183.75 845,185 848.75,185 850,183.75 853.75,185 858.75,183.75 861.25,183.75 865,182.5 867.5,185 871.25,183.75 876.25,183.75 881.25,186.25 885,186.25 890,186.25 893.75,186.25 897.5,185 898.75,183.75 901.25,185 906.25,185 908.75,185 910,190 910,193.75 908.75,195 911.25,197.5 912.5,200 913.75,206.25 913.75,210 913.75,215 915,220 916.25,222.5 912.5,228.75 916.25,230 918.75,232.5 920,235 923.75,240 927.5,242.5 931.25,245 936.25,246.25 938.75,243.75 942.5,241.25 947.5,240 952.5,237.5 952.5,235 956.25,231.25 960,236.25 963.75,237.5 962.5,242.5 960,246.25 962.5,246.25 967.5,243.75 971.25,245 975,240 980,238.75 983.75,233.75 986.25,231.25 988.75,230 991.25,226.25 991.25,230 993.75,235 996.25,237.5 1000,233.75 1005,231.25 1011.25,230 1015,227.5 1016.25,226.25 1021.25,226.25 1025,225 1028.75,222.5 1031.25,218.75 1032.5,216.25 1037.5,213.75 1041.25,211.25 1043.75,208.75 1045,207.5 1048.75,206.25 1052.5,205 1056.25,202.5 1056.25,200 1057.5,195 1056.25,190 1057.5,186.25 1057.5,185 1056.25,180 1057.5,178.75 1056.25,173.75 1056.25,170 1055,165 1056.25,163.75 1055,160 1056.25,156.25 1055,153.75 1056.25,150 1056.25,143.75 1057.5,142.5 1058.75,140 1060,135 1058.75,132.5 1060,127.5 1060,123.75 1058.75,121.25 1057.5,118.75 1056.25,113.75 1056.25,108.75 1057.5,106.25 1057.5,102.5 1056.25,98.75 496.25,97.5 495,101.25 496.25,106.25 496.25,111.25 497.5,116.25 496.25,118.75 497.5,123.75Z" fill="#F46D43"/>
<path d="M538.75,128.75 542.5,133.75 546.25,135 548.75,137.5 551.25,140 555,140 560,142.5 563.75,143.75 566.25,146.25 570,148.75 573.75,151.25 576.25,155 580,157.5 583.75,158.75 588.75,158.75 592.5,160 598.75,160 602.5,161.25 606.25,161.25 610,161.25 615,166.25 618.75,170 622.5,171.25 625,172.5 626.25,176.25 628.75,178.75 632.5,181.25 637.5,182.5 642.5,180 646.25,180 648.75,177.5 653.75,176.25 656.25,175 662.5,173.75 666.25,176.25 668.75,180 672.5,182.5 677.5,182.5 678.75,180 682.5,177.5 686.25,177.5 690,177.5 692.5,180 695,181.25 700,181.25 703.75,185 708.75,187.5 711.25,188.75 713.75,191.25 718.75,192.5 722.5,192.5 727.5,193.75 728.75,192.5 733.75,191.25 735,190 740,185 735,182.5 730,182.5 725,181.25 721.25,177.5 717.5,178.75 711.25,175 708.75,175 703.75,173.75 700,172.5 693.75,171.25 690,168.75 686.25,171.25 683.75,172.5 685,167.5 686.25,161.25 688.75,158.75 692.5,157.5 696.25,155 700,156.25 703.75,153.75 707.5,151.25 710,151.25 713.75,148.75 715,147.5 715,145 716.25,140 716.25,138.75 716.25,133.75 717.5,130 717.5,127.5 716.25,125 716.25,122.5 717.5,116.25 715,111.25 715,107.5 713.75,105 715,102.5 711.25,102.5 708.75,101.25 706.25,98.75 701.25,98.75 698.75,97.5 695,98.75 690,98.75 686.25,100 682.5,101.25 678.75,101.25 675,100 672.5,101.25 671.25,101.25 668.75,98.75 665,97.5 661.25,97.5 657.5,97.5 652.5,100 648.75,100 646.25,100 641.25,98.75 638.75,98.75 635,98.75 632.5,97.5 628.75,100 623.75,100 620,101.25 618.75,100 616.25,100 612.5,98.75 608.75,97.5 606.25,97.5 602.5,100 597.5,100 593.75,98.75 591.25,98.75 586.25,97.5 582.5,100 578.75,101.25 577.5,102.5 572.5,100 570,100 567.5,100 562.5,98.75 560,97.5 556.25,100 551.25,101.25 547.5,98.75 543.75,101.25 541.25,102.5 540,106.25 540,110 538.75,112.5 538.75,117.5 537.5,120 538.75,125Z" fill="#D53E4F"/>
<path d="M606.25,127.5 608.75,133.75 611.25,136.25 612.5,138.75 615,140 616.25,143.75 618.75,141.25 623.75,141.25 626.25,143.75 632.5,142.5 638.75,142.5 641.25,145 645,146.25 648.75,146.25 652.5,148.75 656.25,151.25 660,152.5 663.75,152.5 668.75,153.75 671.25,155 676.25,158.75 682.5,160 686.25,157.5 691.25,153.75 695,150 698.75,148.75 702.5,148.75 706.25,146.25 710,147.5 713.75,145 712.5,140 712.5,137.5 712.5,132.5 713.75,128.75 712.5,125 712.5,122.5 711.25,120 711.25,116.25 712.5,113.75 712.5,107.5 713.75,106.25 715,101.25 711.25,101.25 707.5,100 701.25,100 698.75,100 696.25,100 692.5,100 690,98.75 687.5,98.75 681.25,98.75 677.5,101.25 675,101.25 672.5,98.75 668.75,98.75 666.25,100 662.5,101.25 658.75,102.5 655,102.5 648.75,102.5 646.25,102.5 643.75,102.5 638.75,101.25 635,100 630,98.75 627.5,98.75 623.75,98.75 620,101.25 617.5,101.25 612.5,101.25 610,102.5 605,102.5 606.25,103.75 605,107.5 603.75,110 605,115 606.25,118.75 606.25,122.5Z" fill="#9E0142"/>
<path d="M577.5,135 582.5,132.5 586.25,131.25 592.5,130 595,135 592.5,137.5 586.25,137.5 580,137.5Z" fill="#9E0142"/>
<path d="M1000,193.75 1001.25,191.25 1003.75,190 1005,185 1005,181.25 1008.75,178.75 1011.25,173.75 1013.75,170 1013.75,166.25 1016.25,165 1018.75,161.25 1022.5,157.5 1028.75,160 1033.75,160 1038.75,160 1042.5,163.75 1045,167.5 1046.25,171.25 1045,173.75 1046.25,180 1041.25,178.75 1037.5,182.5 1035,186.25 1035,190 1030,192.5 1026.25,195 1023.75,197.5 1020,200 1016.25,206.25 1015,211.25 1012.5,213.75 1010,216.25 1002.5,217.5 1000,216.25 997.5,211.25 998.75,207.5 997.5,202.5 998.75,197.5Z" fill="#D53E4F"/>
<path d="M990,201.25 995,198.75 998.75,200 997.5,203.75 998.75,205 997.5,210 995,213.75 995,220 991.25,217.5 990,212.5 990,207.5 988.75,206.25 987.5,203.75Z" fill="#D53E4F"/>
<path d="M936.25,215 938.75,213.75 942.5,208.75 946.25,210 948.75,211.25 950,215 952.5,218.75 951.25,221.25 951.25,226.25 948.75,230 945,233.75 938.75,232.5 937.5,227.5 935,225 936.25,220Z" fill="#D53E4F"/>
<path d="M973.75,206.25 977.5,205 983.75,205 985,211.25 986.25,215 982.5,216.25 978.75,217.5 976.25,216.25 973.75,215 975,212.5Z" fill="#D53E4F"/>
<path d="M1015,220 1017.5,220 1021.25,218.75 1026.25,217.5 1031.25,216.25 1035,215 1040,213.75 1043.75,211.25 1048.75,211.25 1053.75,210 1058.75,207.5 1060,212.5 1055,212.5 1050,215 1046.25,215 1041.25,217.5 1036.25,218.75 1033.75,220 1027.5,220 1026.25,222.5 1022.5,225 1021.25,227.5 1017.5,230 1013.75,231.25 1008.75,233.75 1006.25,231.25 1008.75,230 1011.25,228.75 1013.75,222.5Z" fill="#FDAE61"/>
<path d="M876.25,238.75 878.75,236.25 883.75,236.25 890,236.25 892.5,235 896.25,235 901.25,233.75 905,233.75 910,231.25 912.5,230 918.75,233.75 918.75,238.75 918.75,241.25 913.75,243.75 908.75,245 903.75,246.25 898.75,246.25 893.75,245 888.75,246.25 886.25,245 883.75,245 881.25,238.75Z" fill="#FEE08B"/>
<path d="M957.5,237.5 963.75,237.5 965,240 963.75,243.75 962.5,246.25 961.25,250 961.25,256.25 962.5,260 961.25,263.75 962.5,266.25 962.5,270 957.5,268.75 956.25,266.25 956.25,262.5 958.75,257.5 958.75,253.75 960,251.25 960,248.75 960,243.75 957.5,238.75Z" fill="#FEE08B"/>
<path d="M893.75,245 900,245 903.75,243.75 906.25,242.5 911.25,242.5 916.25,245 917.5,248.75 916.25,252.5 915,255 908.75,255 905,255 898.75,255 898.75,252.5 897.5,251.25Z" fill="#FEE08B"/>
<path d="M877.5,291.25 883.75,288.75 886.25,286.25 891.25,287.5 893.75,286.25 898.75,286.25 902.5,287.5 905,288.75 910,287.5 912.5,290 916.25,292.5 912.5,295 907.5,296.25 902.5,297.5 900,298.75 895,300 891.25,297.5 887.5,296.25 883.75,292.5 881.25,292.5Z" fill="#FDAE61"/>
<path d="M867.5,270 871.25,268.75 873.75,270 880,268.75 885,270 888.75,272.5 890,277.5 885,276.25 880,277.5 875,280 871.25,278.75 867.5,277.5 863.75,277.5Z" fill="#FEE08B"/>
<path d="M901.25,265 906.25,266.25 911.25,266.25 915,265 920,265 922.5,270 923.75,272.5 917.5,272.5 915,272.5 911.25,273.75 907.5,272.5 903.75,268.75Z" fill="#FEE08B"/>
<path d="M788.75,200 791.25,197.5 793.75,198.75 797.5,197.5 801.25,200 805,198.75 808.75,200 810,202.5 812.5,206.25 812.5,213.75 808.75,216.25 803.75,218.75 798.75,220 795,216.25 791.25,212.5 787.5,210 786.25,206.25 787.5,203.75Z" fill="#F46D43"/>
<path d="M733.75,173.75 740,172.5 746.25,171.25 750,177.5 746.25,181.25 743.75,181.25 737.5,178.75Z" fill="#D53E4F"/>
<path d="M768.75,221.25 771.25,222.5 773.75,222.5 776.25,225 777.5,231.25 778.75,235 781.25,238.75 782.5,242.5 786.25,243.75 788.75,246.25 792.5,247.5 797.5,248.75 801.25,251.25 806.25,250 808.75,250 812.5,248.75 816.25,247.5 822.5,245 827.5,242.5 826.25,247.5 825,251.25 825,253.75 827.5,257.5 827.5,262.5 828.75,266.25 826.25,271.25 825,271.25 818.75,271.25 815,272.5 810,270 807.5,268.75 805,267.5 801.25,268.75 796.25,268.75 793.75,271.25 788.75,270 787.5,268.75 782.5,271.25 778.75,271.25 776.25,268.75 771.25,268.75 768.75,270 765,268.75 766.25,265 765,261.25 763.75,257.5 766.25,252.5 765,250 765,246.25 766.25,242.5 765,238.75 766.25,233.75 765,232.5 765,228.75 765,222.5Z" fill="#FEE08B"/>
<path d="M533.75,370 535,365 533.75,362.5 535,357.5 535,352.5 532.5,347.5 536.25,346.25 537.5,345 540,341.25 540,335 540,331.25 543.75,326.25 545,325 547.5,322.5 548.75,318.75 550,317.5 553.75,315 557.5,311.25 561.25,310 565,307.5 570,310 576.25,308.75 580,307.5 583.75,306.25 588.75,307.5 592.5,305 597.5,305 601.25,303.75 603.75,302.5 608.75,302.5 613.75,298.75 617.5,300 620,298.75 625,300 630,297.5 636.25,297.5 641.25,296.25 645,295 651.25,297.5 655,298.75 658.75,297.5 661.25,301.25 666.25,301.25 670,302.5 673.75,302.5 680,301.25 683.75,302.5 686.25,303.75 693.75,300 695,297.5 696.25,296.25 700,296.25 701.25,298.75 703.75,300 707.5,302.5 711.25,302.5 715,305 721.25,306.25 725,306.25 728.75,305 733.75,301.25 737.5,303.75 741.25,305 747.5,305 751.25,305 755,305 758.75,306.25 763.75,305 767.5,306.25 773.75,306.25 777.5,303.75 780,306.25 785,305 787.5,303.75 793.75,303.75 798.75,306.25 802.5,308.75 806.25,308.75 810,312.5 813.75,313.75 816.25,316.25 820,315 823.75,316.25 827.5,315 832.5,313.75 837.5,312.5 835,318.75 835,321.25 837.5,325 838.75,328.75 840,332.5 841.25,333.75 842.5,337.5 845,341.25 851.25,345 853.75,342.5 856.25,341.25 862.5,342.5 866.25,340 868.75,337.5 873.75,333.75 875,331.25 880,327.5 882.5,322.5 885,320 887.5,318.75 888.75,315 892.5,312.5 895,308.75 896.25,307.5 898.75,305 901.25,301.25 907.5,300 912.5,300 913.75,298.75 918.75,298.75 921.25,297.5 927.5,300 930,303.75 931.25,300 936.25,296.25 940,293.75 942.5,293.75 945,291.25 947.5,288.75 951.25,287.5 951.25,285 956.25,282.5 958.75,278.75 962.5,278.75 967.5,277.5 972.5,277.5 975,280 980,278.75 982.5,277.5 985,277.5 988.75,277.5 992.5,276.25 996.25,277.5 998.75,278.75 1003.75,278.75 1006.25,278.75 1010,280 1015,280 1018.75,280 1022.5,280 1025,278.75 1028.75,278.75 1031.25,280 1035,280 1040,277.5 1042.5,278.75 1043.75,277.5 1048.75,278.75 1051.25,278.75 1055,277.5 1057.5,276.25 1061.25,276.25 1065,276.25 1068.75,277.5 1071.25,276.25 1075,276.25 1081.25,276.25 1081.25,280 1082.5,283.75 1082.5,288.75 1082.5,291.25 1082.5,295 1080,300 1080,302.5 1078.75,307.5 1078.75,310 1080,312.5 1080,316.25 1080,320 1081.25,325 1081.25,328.75 1082.5,331.25 1082.5,335 1082.5,336.25 1082.5,338.75 1081.25,342.5 1080,346.25 1078.75,348.75 1080,353.75 1080,358.75 1080,361.25 1078.75,365 1078.75,367.5 1081.25,371.25 1082.5,375 1082.5,381.25 1082.5,382.5 1082.5,386.25 1081.25,388.75 1078.75,393.75 1078.75,396.25 1078.75,401.25 1078.75,403.75 1080,407.5 1081.25,410 1078.75,412.5 1081.25,416.25 1081.25,418.75 1080,423.75 1081.25,427.5 1081.25,432.5 1081.25,435 1081.25,437.5 1081.25,443.75 1080,447.5 1081.25,448.75 1082.5,451.25 1082.5,455 1082.5,458.75 1082.5,462.5 1081.25,467.5 1080,471.25 1078.75,472.5 1078.75,477.5 1081.25,482.5 1081.25,486.25 1082.5,487.5 1081.25,491.25 1080,493.75 1078.75,497.5 1081.25,500 1081.25,503.75 1081.25,507.5 1081.25,510 1081.25,513.75 1080,520 1078.75,522.5 1078.75,527.5 1081.25,530 1081.25,533.75 1082.5,538.75 1082.5,542.5 1081.25,546.25 1082.5,548.75 1080,553.75 1081.25,556.25 1081.25,557.5 1081.25,561.25 1081.25,566.25 1081.25,570 1081.25,571.25 1080,573.75 1080,577.5 1080,582.5 1082.5,583.75 1081.25,588.75 1080,592.5 1080,595 1081.25,597.5 532.5,598.75 533.75,595 532.5,592.5 533.75,587.5 533.75,586.25 532.5,583.75 532.5,578.75 531.25,575 531.25,572.5 533.75,568.75 533.75,566.25 533.75,561.25 532.5,557.5 532.5,552.5 533.75,548.75 533.75,547.5 535,545 535,540 532.5,536.25 532.5,532.5 532.5,528.75 532.5,525 532.5,522.5 533.75,520 532.5,515 531.25,511.25 532.5,508.75 533.75,503.75 532.5,501.25 532.5,497.5 532.5,496.25 533.75,492.5 533.75,488.75 532.5,483.75 533.75,478.75 535,476.25 533.75,473.75 533.75,470 535,467.5 532.5,463.75 532.5,461.25 532.5,455 533.75,450 531.25,446.25 533.75,442.5 535,440 535,437.5 535,435 535,431.25 532.5,427.5 532.5,425 532.5,420 533.75,417.5 533.75,412.5 533.75,410 533.75,405 531.25,401.25 532.5,398.75 532.5,393.75 531.25,392.5 530,390 531.25,385 532.5,381.25 533.75,376.25 535,371.25Z" fill="#E6F598"/>
<path d="M420,416.25 425,417.5 431.25,416.25 433.75,421.25 437.5,423.75 438.75,427.5 442.5,428.75 445,426.25 446.25,421.25 448.75,416.25 450,413.75 452.5,410 455,405 461.25,402.5 462.5,397.5 465,392.5 466.25,398.75 468.75,402.5 473.75,402.5 476.25,405 480,405 483.75,405 488.75,407.5 492.5,408.75 493.75,412.5 496.25,415 498.75,416.25 502.5,418.75 507.5,423.75 508.75,427.5 513.75,427.5 516.25,422.5 517.5,417.5 525,416.25 527.5,412.5 532.5,410 536.25,406.25 536.25,401.25 537.5,398.75 536.25,395 533.75,391.25 533.75,387.5 533.75,382.5 535,378.75 533.75,377.5 535,376.25 540,375 542.5,373.75 547.5,372.5 548.75,371.25 551.25,370 558.75,370 563.75,368.75 567.5,366.25 567.5,363.75 570,367.5 572.5,370 575,376.25 576.25,372.5 581.25,368.75 582.5,363.75 586.25,358.75 588.75,357.5 592.5,355 592.5,360 592.5,363.75 593.75,367.5 600,371.25 601.25,366.25 603.75,361.25 608.75,357.5 612.5,355 615,351.25 617.5,348.75 621.25,347.5 625,346.25 626.25,343.75 631.25,343.75 631.25,345 635,347.5 638.75,343.75 641.25,341.25 645,342.5 648.75,347.5 650,348.75 653.75,352.5 657.5,355 662.5,357.5 666.25,358.75 667.5,360 672.5,360 677.5,361.25 680,363.75 683.75,365 687.5,371.25 690,368.75 692.5,365 693.75,363.75 700,362.5 701.25,361.25 703.75,361.25 708.75,357.5 715,356.25 718.75,353.75 721.25,350 725,347.5 728.75,342.5 731.25,345 731.25,346.25 737.5,346.25 743.75,346.25 747.5,347.5 748.75,347.5 752.5,350 758.75,350 762.5,351.25 765,353.75 768.75,350 772.5,347.5 776.25,347.5 778.75,351.25 785,351.25 788.75,351.25 791.25,355 797.5,357.5 802.5,356.25 800,356.25 802.5,355 807.5,355 812.5,352.5 815,350 816.25,355 817.5,357.5 822.5,360 823.75,365 823.75,367.5 822.5,371.25 818.75,372.5 815,375 813.75,377.5 810,381.25 807.5,383.75 811.25,388.75 815,387.5 818.75,385 822.5,383.75 826.25,383.75 831.25,378.75 835,378.75 836.25,376.25 840,375 845,371.25 848.75,368.75 853.75,370 853.75,365 856.25,362.5 858.75,361.25 861.25,357.5 862.5,353.75 865,351.25 865,347.5 871.25,345 872.5,350 876.25,356.25 881.25,353.75 882.5,352.5 883.75,350 886.25,350 890,348.75 897.5,348.75 901.25,341.25 903.75,338.75 905,336.25 908.75,340 908.75,336.25 911.25,331.25 911.25,325 913.75,322.5 916.25,321.25 917.5,327.5 923.75,331.25 928.75,333.75 932.5,327.5 937.5,327.5 936.25,321.25 937.5,317.5 933.75,315 933.75,311.25 938.75,311.25 941.25,317.5 943.75,315 946.25,310 946.25,306.25 951.25,305 955,307.5 958.75,306.25 962.5,307.5 966.25,306.25 967.5,303.75 972.5,302.5 975,303.75 980,302.5 983.75,301.25 987.5,300 988.75,301.25 991.25,302.5 993.75,302.5 1000,302.5 1001.25,305 1002.5,308.75 1002.5,312.5 1000,313.75 1000,317.5 1000,320 1001.25,322.5 1000,328.75 1000,332.5 998.75,335 998.75,340 998.75,343.75 1000,345 1000,347.5 1000,351.25 1000,355 1000,357.5 1000,361.25 998.75,365 1000,368.75 1000,372.5 997.5,377.5 998.75,381.25 1001.25,383.75 1000,388.75 998.75,391.25 1001.25,393.75 1000,398.75 1001.25,401.25 1002.5,406.25 1001.25,411.25 1001.25,412.5 1002.5,416.25 1001.25,421.25 1000,422.5 1000,426.25 998.75,431.25 998.75,433.75 1000,436.25 1001.25,440 1000,446.25 1000,447.5 1000,451.25 998.75,456.25 1000,460 1001.25,463.75 1002.5,465 1002.5,467.5 1002.5,471.25 1000,476.25 1000,481.25 998.75,483.75 998.75,488.75 998.75,491.25 1000,495 998.75,497.5 1001.25,501.25 1001.25,505 1001.25,507.5 1001.25,511.25 1002.5,513.75 1002.5,517.5 1000,522.5 998.75,526.25 998.75,528.75 998.75,531.25 997.5,535 998.75,538.75 997.5,541.25 998.75,546.25 998.75,550 998.75,553.75 1000,558.75 998.75,562.5 1000,565 998.75,567.5 997.5,570 997.5,572.5 998.75,576.25 997.5,582.5 998.75,586.25 1000,591.25 998.75,593.75 997.5,596.25 1000,601.25 421.25,601.25 421.25,597.5 420,595 421.25,590 421.25,586.25 421.25,581.25 420,577.5 421.25,575 420,571.25 421.25,568.75 420,563.75 421.25,560 421.25,556.25 421.25,552.5 420,550 418.75,546.25 418.75,541.25 417.5,541.25 420,537.5 418.75,533.75 418.75,528.75 420,525 420,521.25 421.25,520 421.25,517.5 421.25,511.25 421.25,508.75 421.25,505 418.75,500 418.75,498.75 421.25,493.75 420,490 418.75,486.25 418.75,482.5 420,478.75 420,476.25 418.75,475 418.75,470 420,466.25 418.75,465 417.5,461.25 417.5,457.5 418.75,452.5 418.75,447.5 418.75,446.25 420,443.75 420,440 421.25,435 421.25,432.5 422.5,430 420,426.25 418.75,421.25Z" fill="#ABDDA4"/>
<path d="M480,432.5 485,435 488.75,435 495,436.25 498.75,433.75 501.25,433.75 507.5,432.5 510,430 512.5,430 517.5,427.5 522.5,426.25 523.75,426.25 526.25,425 530,423.75 535,425 538.75,425 543.75,426.25 550,426.25 553.75,427.5 558.75,425 561.25,427.5 566.25,427.5 570,423.75 573.75,421.25 576.25,418.75 581.25,415 585,415 590,411.25 593.75,411.25 596.25,410 598.75,408.75 605,411.25 608.75,411.25 612.5,411.25 618.75,411.25 621.25,412.5 623.75,413.75 626.25,416.25 631.25,416.25 636.25,415 640,413.75 643.75,412.5 645,410 648.75,408.75 650,403.75 652.5,401.25 657.5,401.25 661.25,398.75 665,397.5 668.75,400 672.5,401.25 673.75,397.5 677.5,395 682.5,392.5 686.25,392.5 691.25,388.75 693.75,387.5 695,385 698.75,383.75 702.5,381.25 706.25,381.25 712.5,381.25 712.5,387.5 715,391.25 720,391.25 723.75,392.5 726.25,393.75 728.75,393.75 731.25,393.75 736.25,396.25 740,397.5 745,397.5 750,398.75 756.25,398.75 758.75,398.75 762.5,397.5 763.75,393.75 766.25,392.5 770,391.25 773.75,391.25 777.5,392.5 785,390 788.75,391.25 791.25,391.25 797.5,390 802.5,391.25 806.25,390 808.75,392.5 813.75,392.5 817.5,392.5 821.25,395 826.25,397.5 830,393.75 832.5,392.5 836.25,391.25 838.75,388.75 843.75,388.75 846.25,386.25 851.25,387.5 855,387.5 858.75,390 865,390 871.25,390 873.75,391.25 876.25,391.25 880,390 883.75,390 887.5,392.5 888.75,396.25 891.25,398.75 896.25,397.5 897.5,397.5 900,396.25 905,393.75 907.5,390 908.75,386.25 913.75,385 916.25,381.25 917.5,376.25 920,373.75 925,373.75 928.75,372.5 933.75,371.25 938.75,368.75 940,370 942.5,368.75 948.75,366.25 951.25,365 951.25,368.75 951.25,371.25 951.25,373.75 950,378.75 951.25,383.75 951.25,386.25 952.5,391.25 952.5,396.25 951.25,398.75 951.25,401.25 950,403.75 948.75,407.5 950,411.25 948.75,416.25 951.25,420 950,425 950,428.75 951.25,431.25 951.25,432.5 951.25,437.5 950,440 950,443.75 950,447.5 950,450 951.25,456.25 950,457.5 950,462.5 950,466.25 951.25,470 950,472.5 951.25,473.75 952.5,477.5 953.75,482.5 953.75,487.5 953.75,491.25 951.25,495 950,498.75 952.5,501.25 952.5,503.75 952.5,506.25 951.25,511.25 951.25,516.25 952.5,517.5 953.75,522.5 953.75,523.75 951.25,528.75 951.25,533.75 951.25,535 952.5,540 951.25,542.5 951.25,546.25 952.5,551.25 951.25,552.5 952.5,556.25 952.5,561.25 953.75,563.75 951.25,567.5 951.25,572.5 952.5,573.75 952.5,580 953.75,582.5 953.75,585 953.75,588.75 951.25,592.5 952.5,597.5 951.25,602.5 480,601.25 481.25,596.25 482.5,595 482.5,591.25 481.25,587.5 478.75,582.5 478.75,578.75 478.75,573.75 480,571.25 481.25,566.25 480,563.75 478.75,561.25 478.75,558.75 478.75,555 480,551.25 481.25,547.5 478.75,545 481.25,541.25 481.25,537.5 482.5,532.5 480,530 480,527.5 480,522.5 478.75,517.5 477.5,513.75 477.5,511.25 477.5,508.75 478.75,506.25 480,502.5 478.75,496.25 481.25,491.25 480,487.5 478.75,483.75 478.75,482.5 477.5,478.75 478.75,477.5 481.25,473.75 480,468.75 481.25,466.25 481.25,461.25 482.5,457.5 481.25,455 480,450 478.75,447.5 480,443.75 480,441.25 478.75,437.5Z" fill="#66C2A5"/>
<path d="M481.25,481.25 482.5,481.25 485,481.25 491.25,482.5 495,483.75 497.5,485 502.5,486.25 507.5,487.5 508.75,488.75 512.5,488.75 515,486.25 518.75,483.75 523.75,481.25 527.5,481.25 530,480 533.75,478.75 537.5,478.75 542.5,482.5 547.5,482.5 553.75,482.5 557.5,483.75 561.25,482.5 567.5,481.25 571.25,480 573.75,478.75 577.5,477.5 581.25,475 581.25,472.5 585,471.25 590,468.75 593.75,465 596.25,461.25 597.5,457.5 598.75,455 601.25,452.5 602.5,448.75 602.5,445 603.75,437.5 606.25,433.75 610,432.5 613.75,428.75 617.5,428.75 620,430 626.25,430 627.5,432.5 630,433.75 633.75,435 638.75,435 643.75,437.5 645,438.75 650,441.25 650,440 651.25,436.25 656.25,432.5 658.75,432.5 662.5,432.5 668.75,433.75 671.25,435 677.5,438.75 680,440 685,440 687.5,440 691.25,440 692.5,445 696.25,448.75 698.75,452.5 702.5,457.5 707.5,460 708.75,461.25 713.75,462.5 716.25,462.5 720,465 725,465 728.75,465 735,463.75 737.5,463.75 740,466.25 743.75,467.5 750,466.25 756.25,465 760,465 763.75,463.75 766.25,465 770,466.25 776.25,465 778.75,463.75 783.75,462.5 788.75,462.5 792.5,458.75 793.75,458.75 798.75,458.75 802.5,455 805,453.75 811.25,452.5 816.25,455 818.75,457.5 821.25,458.75 826.25,462.5 828.75,465 832.5,466.25 835,463.75 838.75,458.75 838.75,456.25 841.25,452.5 843.75,448.75 845,445 846.25,441.25 848.75,441.25 851.25,436.25 852.5,435 855,433.75 858.75,431.25 861.25,428.75 865,426.25 866.25,431.25 865,435 865,437.5 866.25,438.75 866.25,443.75 866.25,446.25 865,448.75 866.25,452.5 867.5,455 866.25,460 867.5,463.75 865,467.5 863.75,471.25 863.75,476.25 865,480 865,482.5 863.75,487.5 865,488.75 863.75,492.5 865,498.75 865,501.25 866.25,503.75 867.5,507.5 866.25,510 865,513.75 865,518.75 863.75,522.5 863.75,525 863.75,530 866.25,533.75 865,536.25 866.25,541.25 867.5,542.5 867.5,547.5 866.25,550 866.25,553.75 866.25,558.75 865,561.25 863.75,562.5 865,566.25 865,571.25 866.25,576.25 866.25,578.75 866.25,581.25 866.25,586.25 865,587.5 865,591.25 863.75,595 863.75,598.75 862.5,598.75 857.5,598.75 852.5,597.5 850,600 847.5,601.25 843.75,600 841.25,598.75 837.5,600 833.75,598.75 830,598.75 827.5,598.75 825,600 821.25,600 818.75,598.75 813.75,600 808.75,600 806.25,600 803.75,601.25 798.75,601.25 797.5,600 793.75,598.75 788.75,601.25 785,598.75 782.5,598.75 780,597.5 776.25,597.5 772.5,598.75 766.25,597.5 765,597.5 761.25,598.75 755,598.75 753.75,600 748.75,600 746.25,598.75 743.75,600 741.25,600 737.5,600 732.5,601.25 728.75,602.5 726.25,601.25 723.75,601.25 721.25,602.5 715,602.5 712.5,600 706.25,601.25 702.5,602.5 701.25,602.5 696.25,601.25 693.75,600 691.25,600 687.5,602.5 685,602.5 680,601.25 677.5,601.25 673.75,600 670,598.75 666.25,598.75 662.5,597.5 660,598.75 657.5,600 652.5,600 650,601.25 646.25,601.25 641.25,598.75 636.25,598.75 632.5,600 628.75,598.75 625,601.25 621.25,600 618.75,600 615,598.75 611.25,598.75 608.75,598.75 607.5,597.5 603.75,598.75 600,598.75 596.25,600 591.25,601.25 588.75,602.5 583.75,601.25 581.25,598.75 578.75,600 575,601.25 570,600 568.75,600 563.75,601.25 560,600 558.75,601.25 555,598.75 550,600 546.25,597.5 542.5,598.75 540,598.75 536.25,601.25 531.25,602.5 528.75,601.25 526.25,600 522.5,600 518.75,601.25 515,598.75 512.5,600 507.5,601.25 505,598.75 501.25,600 497.5,598.75 495,600 488.75,601.25 487.5,600 483.75,600 478.75,601.25 481.25,598.75 481.25,593.75 481.25,590 480,586.25 477.5,581.25 477.5,576.25 478.75,573.75 480,570 478.75,565 478.75,565 478.75,560 478.75,555 478.75,553.75 480,550 478.75,547.5 478.75,542.5 477.5,540 478.75,536.25 478.75,532.5 478.75,527.5 478.75,523.75 477.5,520 477.5,516.25 477.5,515 480,511.25 478.75,506.25 481.25,502.5 480,498.75 480,495 478.75,492.5 478.75,490 478.75,485Z" fill="#3288BD"/>
<path d="M696.25,423.75 702.5,422.5 705,428.75 706.25,430 705,433.75 705,437.5 698.75,436.25 700,432.5 697.5,428.75Z" fill="#3288BD"/>
<path d="M913.75,391.25 917.5,383.75 925,381.25 931.25,378.75 930,385 930,390 923.75,391.25 922.5,392.5 920,393.75Z" fill="#3288BD"/>
<path d="M567.5,522.5 570,521.25 575,518.75 578.75,520 582.5,520 587.5,520 590,517.5 591.25,520 596.25,521.25 600,521.25 602.5,525 603.75,528.75 603.75,531.25 605,536.25 603.75,541.25 603.75,545 602.5,550 606.25,552.5 607.5,555 607.5,558.75 610,561.25 606.25,560 602.5,558.75 597.5,560 593.75,557.5 591.25,557.5 587.5,557.5 583.75,556.25 580,552.5 575,551.25 575,546.25 571.25,542.5 571.25,540 571.25,538.75 570,535 567.5,528.75 567.5,527.5Z" fill="#5E4FA2"/>
<path d="M628.75,490 632.5,487.5 636.25,485 640,488.75 642.5,490 642.5,492.5 638.75,497.5 635,497.5 628.75,496.25 627.5,490Z" fill="#5E4FA2"/>
<path d="M613.75,503.75 620,501.25 622.5,503.75 622.5,508.75 621.25,510 617.5,512.5 612.5,511.25Z" fill="#5E4FA2"/>
<path d="M821.25,526.25 825,527.5 827.5,530 827.5,532.5 830,536.25 830,540 832.5,542.5 837.5,546.25 842.5,543.75 846.25,538.75 847.5,535 851.25,532.5 852.5,528.75 858.75,528.75 857.5,531.25 858.75,535 861.25,540 861.25,545 860,548.75 862.5,553.75 863.75,555 863.75,557.5 862.5,561.25 862.5,566.25 860,568.75 860,573.75 856.25,575 855,580 852.5,577.5 847.5,577.5 842.5,577.5 840,573.75 840,570 840,565 838.75,560 837.5,558.75 833.75,556.25 832.5,551.25 831.25,546.25 830,543.75 828.75,538.75 825,535 823.75,530Z" fill="#5E4FA2"/>
<path d="M838.75,508.75 843.75,505 848.75,507.5 850,512.5 852.5,517.5 850,520 850,526.25 846.25,522.5 843.75,520 838.75,516.25Z" fill="#5E4FA2"/>
<path d="M708.75,482.5 713.75,481.25 716.25,482.5 718.75,482.5 722.5,485 725,485 730,483.75 731.25,487.5 731.25,493.75 730,497.5 731.25,503.75 727.5,502.5 723.75,502.5 720,505 717.5,501.25 713.75,501.25 712.5,498.75 712.5,495 711.25,491.25 710,486.25Z" fill="#5E4FA2"/>
<path d="M242.5,130 242.5,133.75 242.5,138.75 245,141.25 245,146.25 243.75,151.25 243.75,156.25 246.25,161.25 243.75,162.5 245,167.5 245,172.5 243.75,177.5 243.75,181.25 242.5,186.25 241.25,191.25 241.25,196.25 240,201.25 241.25,203.75 238.75,205 238.75,210 238.75,215 238.75,218.75 240,220 240,223.75 238.75,228.75 235,233.75 232.5,236.25 232.5,241.25 232.5,245 230,250 232.5,253.75 235,256.25 235,260 238.75,261.25 243.75,262.5 245,266.25 245,270 246.25,272.5 250,276.25 252.5,281.25 256.25,282.5 256.25,286.25 256.25,291.25 256.25,295 258.75,297.5 261.25,300 262.5,306.25 262.5,310 263.75,312.5 263.75,315 267.5,320 275,318.75 278.75,320 281.25,323.75 285,326.25 291.25,325 296.25,331.25 300,326.25 303.75,332.5 307.5,336.25 308.75,338.75 312.5,340 317.5,345 325,347.5 328.75,343.75 328.75,336.25 332.5,338.75 335,343.75 341.25,341.25 341.25,335 343.75,340 345,343.75 350,340 352.5,336.25 353.75,341.25 361.25,343.75 363.75,342.5 366.25,338.75 368.75,346.25 365,351.25 363.75,356.25 361.25,358.75 361.25,363.75 362.5,368.75 366.25,363.75 366.25,361.25 367.5,358.75 372.5,360 378.75,356.25 381.25,361.25 381.25,368.75 376.25,367.5 372.5,368.75 370,371.25 367.5,376.25 365,380 361.25,386.25 365,388.75 368.75,390 372.5,392.5 378.75,393.75 383.75,393.75 387.5,396.25 391.25,396.25 395,398.75 396.25,402.5 401.25,405 402.5,407.5 405,410 407.5,412.5 408.75,413.75 415,416.25 416.25,418.75 416.25,425 416.25,426.25 415,428.75 416.25,432.5 417.5,435 416.25,441.25 416.25,443.75 416.25,446.25 416.25,451.25 417.5,452.5 417.5,456.25 416.25,460 416.25,465 415,467.5 415,470 415,473.75 416.25,478.75 415,482.5 416.25,485 418.75,490 418.75,493.75 418.75,498.75 418.75,502.5 418.75,506.25 420,507.5 418.75,510 418.75,512.5 417.5,517.5 418.75,521.25 420,525 420,527.5 420,532.5 420,533.75 417.5,540 416.25,543.75 416.25,545 418.75,551.25 420,555 420,556.25 421.25,560 418.75,565 417.5,566.25 420,571.25 418.75,575 418.75,576.25 418.75,580 418.75,585 417.5,587.5 417.5,590 420,595 418.75,600 420,603.75 420,607.5 420,608.75 420,612.5 421.25,616.25 420,617.5 416.25,617.5 413.75,617.5 411.25,620 406.25,620 401.25,621.25 398.75,618.75 395,617.5 392.5,617.5 387.5,620 385,621.25 381.25,620 376.25,618.75 373.75,617.5 372.5,618.75 368.75,621.25 366.25,620 361.25,620 357.5,621.25 355,621.25 352.5,618.75 346.25,620 345,618.75 340,620 333.75,620 331.25,622.5 328.75,620 326.25,618.75 321.25,617.5 316.25,620 315,620 310,618.75 306.25,620 302.5,618.75 298.75,620 295,618.75 291.25,621.25 288.75,618.75 286.25,620 283.75,618.75 280,620 277.5,620 275,620 271.25,621.25 266.25,620 265,621.25 261.25,620 257.5,620 252.5,621.25 248.75,620 243.75,621.25 238.75,620 236.25,618.75 232.5,620 228.75,621.25 226.25,622.5 223.75,622.5 221.25,622.5 217.5,621.25 212.5,621.25 208.75,621.25 205,620 201.25,620 200,621.25 195,620 191.25,621.25 187.5,620 186.25,618.75 181.25,617.5 177.5,618.75 175,618.75 170,620 167.5,620 166.25,618.75 160,617.5 157.5,618.75 152.5,617.5 150,617.5 148.75,100 153.75,98.75 156.25,98.75 158.75,101.25 163.75,102.5 167.5,101.25 170,102.5 173.75,100 176.25,98.75 180,100 185,101.25 188.75,101.25 191.25,101.25 196.25,100 198.75,100 201.25,101.25 206.25,101.25 208.75,98.75 212.5,98.75 216.25,98.75 218.75,98.75 223.75,100 226.25,100 231.25,101.25 235,102.5 237.5,100 240,103.75 241.25,106.25 241.25,110 242.5,112.5 243.75,117.5 242.5,121.25 245,125Z" fill="#ABDDA4"/>
<path d="M238.75,128.75 241.25,133.75 240,138.75 241.25,143.75 241.25,147.5 242.5,151.25 240,155 238.75,158.75 237.5,163.75 237.5,168.75 237.5,173.75 236.25,177.5 236.25,182.5 237.5,186.25 235,188.75 233.75,193.75 235,198.75 233.75,201.25 232.5,205 232.5,207.5 232.5,211.25 232.5,213.75 231.25,218.75 228.75,222.5 227.5,225 227.5,230 226.25,233.75 227.5,236.25 228.75,240 227.5,245 228.75,248.75 228.75,251.25 231.25,256.25 230,261.25 235,263.75 237.5,263.75 238.75,267.5 243.75,270 247.5,275 248.75,277.5 251.25,281.25 253.75,285 256.25,286.25 257.5,291.25 256.25,292.5 260,296.25 261.25,300 261.25,302.5 263.75,306.25 266.25,310 266.25,312.5 268.75,313.75 272.5,320 273.75,322.5 276.25,326.25 278.75,330 280,333.75 282.5,336.25 283.75,340 287.5,342.5 291.25,345 295,347.5 296.25,351.25 298.75,351.25 302.5,352.5 305,353.75 310,357.5 312.5,355 317.5,355 320,353.75 326.25,353.75 331.25,352.5 336.25,352.5 337.5,355 342.5,355 346.25,356.25 346.25,361.25 347.5,365 348.75,368.75 350,371.25 350,375 350,375 351.25,377.5 355,383.75 357.5,386.25 363.75,390 365,391.25 368.75,396.25 371.25,396.25 375,398.75 378.75,401.25 381.25,403.75 383.75,405 388.75,405 391.25,408.75 395,411.25 400,412.5 402.5,413.75 406.25,417.5 408.75,420 410,421.25 413.75,426.25 416.25,428.75 418.75,430 423.75,432.5 427.5,431.25 431.25,433.75 435,435 440,436.25 443.75,437.5 448.75,440 452.5,436.25 456.25,433.75 458.75,431.25 462.5,433.75 466.25,433.75 471.25,435 477.5,432.5 482.5,432.5 482.5,435 481.25,438.75 480,442.5 480,446.25 481.25,451.25 478.75,452.5 481.25,457.5 481.25,462.5 482.5,463.75 480,466.25 478.75,471.25 477.5,473.75 477.5,478.75 478.75,483.75 477.5,486.25 480,490 480,491.25 478.75,496.25 481.25,498.75 481.25,502.5 481.25,507.5 481.25,510 482.5,513.75 482.5,515 481.25,521.25 480,523.75 480,528.75 478.75,532.5 478.75,536.25 478.75,538.75 480,542.5 480,547.5 480,548.75 481.25,551.25 480,556.25 478.75,558.75 477.5,563.75 480,566.25 478.75,571.25 480,575 481.25,578.75 480,582.5 480,583.75 481.25,588.75 478.75,592.5 477.5,595 480,597.5 481.25,601.25 478.75,605 480,610 478.75,615 477.5,617.5 478.75,621.25 473.75,621.25 472.5,620 468.75,620 466.25,620 461.25,620 458.75,621.25 456.25,618.75 452.5,618.75 447.5,620 446.25,621.25 440,621.25 437.5,621.25 433.75,622.5 428.75,622.5 426.25,622.5 423.75,622.5 421.25,622.5 418.75,622.5 415,620 410,618.75 405,618.75 403.75,618.75 400,618.75 395,617.5 392.5,617.5 388.75,617.5 385,620 381.25,621.25 377.5,620 373.75,618.75 372.5,618.75 368.75,617.5 366.25,617.5 362.5,617.5 357.5,617.5 355,620 351.25,620 347.5,621.25 342.5,621.25 338.75,618.75 337.5,618.75 332.5,618.75 327.5,618.75 323.75,620 321.25,618.75 316.25,617.5 312.5,620 308.75,618.75 306.25,617.5 302.5,620 298.75,618.75 296.25,617.5 292.5,617.5 290,618.75 286.25,618.75 282.5,617.5 277.5,618.75 275,620 272.5,620 268.75,621.25 266.25,620 261.25,621.25 258.75,620 253.75,621.25 251.25,620 248.75,618.75 246.25,617.5 243.75,620 238.75,621.25 235,621.25 232.5,620 230,618.75 225,618.75 222.5,617.5 218.75,618.75 213.75,621.25 211.25,621.25 208.75,622.5 205,621.25 201.25,621.25 196.25,618.75 192.5,617.5 190,617.5 186.25,618.75 183.75,621.25 178.75,621.25 176.25,618.75 173.75,621.25 167.5,620 165,621.25 162.5,621.25 158.75,621.25 153.75,621.25 150,622.5 150,101.25 152.5,100 155,98.75 158.75,98.75 162.5,98.75 168.75,98.75 172.5,100 177.5,101.25 180,98.75 183.75,101.25 186.25,100 191.25,100 193.75,100 196.25,98.75 198.75,98.75 202.5,97.5 207.5,97.5 210,100 213.75,98.75 215,100 220,97.5 223.75,98.75 227.5,100 231.25,97.5 233.75,100 235,105 237.5,107.5 237.5,110 238.75,113.75 240,116.25 240,120 240,123.75Z" fill="#66C2A5"/>
<path d="M256.25,298.75 258.75,298.75 263.75,298.75 265,301.25 267.5,306.25 271.25,308.75 273.75,311.25 275,313.75 277.5,317.5 278.75,322.5 278.75,326.25 280,330 280,332.5 282.5,335 283.75,341.25 285,346.25 287.5,347.5 291.25,352.5 291.25,355 293.75,358.75 295,361.25 297.5,365 297.5,367.5 298.75,372.5 298.75,375 292.5,375 291.25,372.5 287.5,370 283.75,366.25 285,361.25 282.5,356.25 281.25,355 278.75,350 276.25,345 273.75,343.75 272.5,338.75 270,336.25 270,335 267.5,330 267.5,325 265,323.75 263.75,320 261.25,316.25 258.75,312.5 256.25,308.75 257.5,305 255,302.5Z" fill="#ABDDA4"/>
<path d="M258.75,301.25 265,305 265,310 270,312.5 270,315 272.5,318.75 273.75,322.5 276.25,327.5 278.75,330 278.75,336.25 281.25,340 282.5,343.75 283.75,345 287.5,350 288.75,353.75 292.5,357.5 291.25,361.25 292.5,365 295,367.5 297.5,370 295,372.5 292.5,370 290,366.25 287.5,362.5 283.75,356.25 283.75,352.5 281.25,348.75 277.5,345 276.25,342.5 275,337.5 275,335 271.25,331.25 270,327.5 268.75,325 266.25,322.5 265,318.75 263.75,315 260,310 261.25,303.75Z" fill="#E6F598"/>
<path d="M266.25,321.25 268.75,325 270,327.5 271.25,331.25 275,335 276.25,337.5 277.5,340 278.75,345 282.5,348.75 283.75,352.5 287.5,356.25 288.75,358.75 290,360 292.5,365 295,370 291.25,371.25 290,366.25 287.5,361.25 283.75,356.25 282.5,355 280,350 277.5,346.25 277.5,343.75 276.25,338.75 275,335 272.5,333.75 270,331.25 267.5,327.5Z" fill="#FEE08B"/>
<path d="M203.75,298.75 205,298.75 207.5,297.5 211.25,296.25 213.75,300 215,302.5 218.75,306.25 220,308.75 223.75,311.25 225,315 228.75,312.5 228.75,310 231.25,305 230,301.25 230,296.25 231.25,291.25 233.75,288.75 240,288.75 242.5,293.75 246.25,296.25 246.25,298.75 248.75,302.5 250,306.25 251.25,307.5 255,313.75 256.25,315 258.75,318.75 258.75,323.75 262.5,326.25 262.5,330 266.25,333.75 267.5,337.5 270,341.25 273.75,343.75 276.25,346.25 277.5,350 280,353.75 280,356.25 282.5,358.75 285,361.25 286.25,366.25 288.75,368.75 292.5,372.5 295,373.75 296.25,377.5 301.25,378.75 305,382.5 310,381.25 315,382.5 320,381.25 325,380 327.5,375 330,373.75 331.25,371.25 335,366.25 338.75,365 341.25,363.75 345,365 347.5,366.25 352.5,370 350,372.5 350,376.25 348.75,380 347.5,383.75 348.75,387.5 350,393.75 351.25,398.75 351.25,402.5 353.75,403.75 358.75,406.25 362.5,407.5 366.25,410 367.5,413.75 368.75,416.25 373.75,420 376.25,423.75 381.25,423.75 385,426.25 388.75,428.75 388.75,431.25 393.75,433.75 397.5,437.5 398.75,440 402.5,441.25 406.25,443.75 408.75,445 412.5,446.25 416.25,448.75 420,450 425,451.25 427.5,452.5 426.25,457.5 426.25,465 423.75,462.5 420,463.75 416.25,463.75 411.25,466.25 406.25,466.25 405,466.25 400,466.25 396.25,465 393.75,463.75 390,465 388.75,465 383.75,465 380,463.75 376.25,462.5 373.75,465 368.75,466.25 363.75,466.25 361.25,463.75 357.5,463.75 353.75,463.75 351.25,465 348.75,462.5 346.25,460 343.75,460 340,457.5 336.25,457.5 333.75,453.75 330,451.25 326.25,452.5 322.5,450 318.75,446.25 316.25,446.25 313.75,442.5 311.25,443.75 306.25,442.5 302.5,438.75 300,436.25 298.75,432.5 293.75,430 293.75,430 291.25,427.5 287.5,425 283.75,423.75 280,422.5 277.5,420 276.25,417.5 273.75,416.25 272.5,413.75 267.5,408.75 263.75,407.5 261.25,405 257.5,403.75 255,398.75 253.75,398.75 253.75,396.25 253.75,391.25 250,386.25 250,383.75 248.75,381.25 245,377.5 242.5,375 241.25,371.25 237.5,367.5 237.5,366.25 233.75,361.25 231.25,357.5 231.25,353.75 230,352.5 228.75,348.75 226.25,347.5 225,343.75 222.5,340 218.75,340 216.25,341.25 213.75,340 210,340 205,341.25 201.25,341.25 197.5,340 192.5,340 190,338.75 187.5,337.5 182.5,338.75 177.5,337.5 175,340 172.5,340 170,341.25 166.25,342.5 162.5,341.25 158.75,340 156.25,341.25 152.5,338.75 151.25,337.5 151.25,333.75 151.25,328.75 151.25,326.25 148.75,321.25 150,318.75 151.25,316.25 150,312.5 150,310 151.25,305 152.5,301.25 153.75,301.25 158.75,298.75 162.5,300 163.75,300 166.25,301.25 168.75,300 175,298.75 178.75,297.5 182.5,298.75 185,297.5 188.75,298.75 190,297.5 193.75,297.5 198.75,298.75Z" fill="#3288BD"/>
<path d="M198.75,238.75 203.75,237.5 207.5,241.25 208.75,246.25 208.75,248.75 207.5,252.5 205,256.25 202.5,260 200,258.75 197.5,256.25 197.5,253.75 197.5,247.5 198.75,245 197.5,240Z" fill="#3288BD"/>
<path d="M211.25,311.25 215,312.5 217.5,316.25 218.75,320 222.5,323.75 222.5,326.25 223.75,330 226.25,331.25 227.5,335 231.25,336.25 233.75,341.25 235,345 237.5,347.5 238.75,350 241.25,352.5 237.5,353.75 236.25,351.25 233.75,347.5 230,342.5 228.75,338.75 226.25,335 222.5,333.75 220,331.25 218.75,328.75 216.25,325 216.25,323.75 215,320 215,315Z" fill="#66C2A5"/>
<path d="M243.75,361.25 246.25,363.75 247.5,366.25 250,370 253.75,375 255,376.25 257.5,380 260,383.75 261.25,386.25 265,390 266.25,391.25 271.25,391.25 266.25,395 263.75,392.5 260,390 258.75,386.25 255,382.5 251.25,380 250,375 245,371.25 242.5,367.5 240,363.75 238.75,363.75Z" fill="#66C2A5"/>
<path d="M280,390 283.75,391.25 287.5,388.75 292.5,387.5 297.5,390 300,388.75 305,391.25 310,392.5 312.5,396.25 308.75,398.75 303.75,401.25 301.25,398.75 296.25,396.25 291.25,395 286.25,396.25 282.5,396.25Z" fill="#66C2A5"/>
<path d="M287.5,392.5 292.5,392.5 296.25,391.25 300,390 303.75,392.5 308.75,395 302.5,395 298.75,395 293.75,393.75 290,395Z" fill="#ABDDA4"/>
<path d="M211.25,271.25 213.75,271.25 217.5,271.25 222.5,272.5 227.5,273.75 230,276.25 235,277.5 235,280 236.25,281.25 238.75,283.75 235,285 230,285 230,290 226.25,293.75 222.5,293.75 220,290 218.75,288.75 216.25,285 212.5,282.5 211.25,276.25Z" fill="#ABDDA4"/>
<path d="M480,445 483.75,447.5 488.75,447.5 493.75,448.75 497.5,450 501.25,452.5 503.75,456.25 506.25,457.5 510,460 510,465 511.25,470 515,473.75 513.75,476.25 517.5,480 517.5,482.5 515,485 512.5,486.25 511.25,488.75 507.5,486.25 503.75,485 501.25,480 498.75,478.75 493.75,475 491.25,471.25 487.5,468.75 487.5,465 483.75,460 482.5,457.5 480,455 478.75,452.5Z" fill="#ABDDA4"/>
<path d="M308.75,396.25 312.5,395 313.75,392.5 317.5,391.25 322.5,390 323.75,387.5 326.25,386.25 330,385 335,385 337.5,385 341.25,387.5 343.75,388.75 345,391.25 346.25,393.75 350,398.75 352.5,403.75 353.75,408.75 356.25,411.25 361.25,413.75 362.5,413.75 368.75,415 372.5,416.25 375,417.5 377.5,418.75 380,420 381.25,422.5 383.75,423.75 387.5,426.25 391.25,428.75 393.75,433.75 395,435 392.5,438.75 388.75,442.5 385,443.75 381.25,441.25 375,440 372.5,438.75 370,437.5 366.25,436.25 361.25,433.75 358.75,433.75 355,432.5 350,431.25 348.75,436.25 345,438.75 341.25,442.5 338.75,442.5 336.25,441.25 330,440 327.5,440 325,436.25 325,431.25 323.75,430 322.5,427.5 321.25,421.25 320,415 317.5,412.5 316.25,410 312.5,408.75 311.25,406.25 308.75,402.5Z" fill="#5E4FA2"/>
</g>

<g fill="none" stroke="#000" stroke-width="2.2" stroke-linejoin="round" stroke-linecap="round">
<path d="M223.5,129.5 L636.2,129.5 L636.2,123.5 L642.5,123.5 L643.8,132.5 L650,135 L660,137 L666.2,136.2 L670,140 L677.5,142.5 L685,144.5 L692.5,146.2 L705,145.8 L713.8,147 L721.2,148 L712.5,152 L702.5,158.8 L692.5,166.2 L683.8,171.2 L680,173.8 L690,166.2 L695,170 L699.4,168.8 L700.6,173.1 L702.5,170.6 L702.5,172.5 L707.5,174.4 L711.2,173.1 L715,170.6 L721.2,168.8 L727.5,165 L733.8,161.2 L740,158.1 L745,157.5 L747.5,158.5 L745,160.6 L741.2,163.1 L738.1,166.2 L736.9,170 L738.8,168.1 L743.8,168.8 L747.5,170 L750,172.5 L752.5,175 L757.5,176.2 L762.5,176.9 L767.5,174.4 L772.5,173.1 L780,172.2 L785,171.2 L788.8,170.6 L789.4,174.4 L792.5,176.2 L797.5,176.9 L800,180 L801.9,183.1 L804.4,185.6 L800,186.2 L795,186.9 L792.5,187.5 L788.8,186.2 L783.8,184.4 L780,183.8 L775,185 L770,186.9 L767.5,188.8 L765,187.5 L761.2,188.1 L758.1,187.5 L755,192.5 L752.5,196.2 L750,199.4 L747.5,202.5 L745,206.9 L742.5,211.2 L745.6,207.8 L750,203.8 L755,199.4 L758.8,197.5 L755,202.5 L752.5,208.8 L751.2,215 L750,220 L748.8,224 L747,230 L746.2,240 L747.5,250 L750,260 L753.8,267.5 L761.2,265 L766.2,260 L770,252.5 L768.8,242.5 L767,232.5 L766.2,222.5 L765,224 L766.2,220 L768.1,215 L770,210 L772.5,206.2 L777.5,203.8 L780,201.2 L782.5,198.1 L786.2,193.8 L790,190.6 L793.8,191.9 L798.8,193.1 L805,195.6 L810,198.1 L813.1,201.2 L813.8,205 L813.1,210 L813.8,215 L812.5,218.8 L810,221.9 L806.2,226.2 L810,228.8 L817.5,222.5 L821.2,221.2 L825,227.5 L826.2,240 L825,247.5 L821.2,252.5 L817.5,260 L815,267.5 L837.5,268 L853.8,262.5 L866.2,257.5 L877.5,250 L876.2,237.5 L882.5,235 L900,236.2 L912.5,231.2 L917.5,226.2 L916.2,220 L922.5,216.2 L930,210 L937.5,205 L990,203.8 L993.8,198.8 L997.5,199.5 L1000,195 L1006.2,190 L1007.5,182.5 L1012.5,173.8 L1016.2,166.2 L1020,160 L1023.8,157.5 L1026.2,159.5 L1032.5,160.5 L1037.5,159.5 L1043.8,165 L1046.2,170 L1046.2,192.5 L1050,193.8 L1051.2,200 L1056.2,203.8 L1056.2,207.5 L1051.2,211.2 L1043.8,213.8 L1037.5,216.2 L1031.2,213.8 L1028.8,218.8 L1022.5,220 L1020,225 L1012.5,227.5 L1008.8,232.5 L1003.8,238.8 L1000,242.5 L1000,243.1 L1000,245 L998.8,248.8 L996.2,253.1 L998.8,255 L1001.9,258.1 L1003.8,262.5 L1004.4,265.6 L1008.8,264.4 L1011.9,265.6 L1013.1,263.8 L1012.5,260.6 L1010,258.8 L1007.5,258.8 L1010,260.6 L1011,263.1 L1008.8,262.8 L1005,266.2 L1000,267.5 L995,267.5 L992.5,268.8 L987.5,271.2 L981.2,274.4 L975,275.6 L968.8,276.9 L962.5,277.5 L956.2,278.5 L952.5,283.8 L947.5,288.1 L952.5,290 L951.9,296.2 L950,304 L951.9,300 L948.8,305 L946.2,307.5 L942.5,311.2 L938.8,313.8 L936.2,310 L933.8,307.5 L930,305 L932.5,310 L935,316.2 L936.2,321.2 L936.2,325 L935,331.2 L931.2,337.5 L927.5,343.8 L923.8,350 L922.5,353.8 L925,361.2 L926.2,369 L926.2,366.2 L928.8,372.5 L930,376.2 L930.6,380 L929.4,386.9 L918.8,392.5 L913.8,397.5 L908.8,396.2 L903.8,397.5 L900,400 L896.2,403.8 L893.8,408.1 L892.5,411.2 L883.8,411.2 L880,413.8 L876.2,418.1 L873.8,422.5 L872.5,425 L868.8,428.1 L865,431.2 L862.5,434 L862.5,432.5 L852.5,438.8 L847.5,443.8 L845,450 L842.5,460 L838.8,470 L841.2,471 L843.8,481 L847.5,493.5 L851.2,506 L855,518.5 L858.8,531 L862,543.5 L862.5,551 L861.2,561 L858.8,569.8 L852.5,574.8 L847.5,574.8 L845,571 L841.2,564.8 L836.2,556 L831.2,546 L827.5,538.5 L823.8,531 L821.2,521 L822.5,511 L821.2,503.5 L816.2,497.2 L811.2,491 L806.2,485.5 L800,483.5 L792.5,488.5 L783.8,490.5 L781.2,487.2 L777.5,481 L770,477.2 L760,476 L752.5,476.5 L747.5,477.2 L742.5,478 L740,471 L737.5,478.5 L730,479.8 L725,482.2 L721.2,483.5 L717.5,487.2 L720,493.5 L723.8,496 L727.5,499.8 L723.8,503.5 L720,499.8 L715,496 L710,497.2 L703.8,499.8 L697.5,498.5 L692.5,493.5 L687.5,492.2 L682.5,488.5 L672.5,490.5 L665,488 L657.5,487.2 L647.5,491 L640,494.8 L632.5,502.2 L625,507.2 L615,512.2 L607.5,518.5 L602.5,526 L601.2,536 L603.8,546 L605.5,556 L607,559.8 L601.2,560.5 L592.5,557.2 L585,554 L577.5,552.2 L573.8,546 L572.5,538.5 L570,531 L565,523.5 L561.2,516 L557.5,508.5 L552.5,499.8 L548.8,497.5 L542.5,490 L532.5,487.5 L526.2,488.8 L521.2,496.2 L516.2,503.2 L510,500 L502.5,493.8 L495,487.5 L493.8,480 L488.8,473.8 L481.2,466.2 L473.8,458.8 L466.2,451.8 L442,451.8 L442,458.8 L429.2,458.8 L398.8,459.8 L343,437.2 L346.2,433 L308,436 L305,427.2 L300,421 L293.8,416 L291.2,413 L285,406.8 L275,401.8 L266.2,400.5 L257.5,398 L255,390.5 L252.5,383 L247.5,375.5 L242.5,368 L238,360.5 L236.2,354.2 L233.8,348 L230,340.5 L228.8,333.5 L223.8,329.2 L217.5,323 L212.5,314.2 L209.5,305.5 L205,296.8 L200.5,289.2 L201.2,283 L203,275.5 L205,268 L203,261.2 L200.5,255 L199.5,248.8 L197.5,244.2 L198.8,240 L201.2,232.5 L203,225 L204.5,215 L205.5,205 L205.8,195 L205,185.5 L207,180 L206.2,173.8 L204.5,170 L203,162.5 L200.5,155 L197.5,147.5 L195.5,141.2 L205,144.2 L217.5,145.8 L221.2,137.5 L223.8,129.5Z"/>
<path d="M207,180 L220,182 L225,188.8 L231.2,193 L250,191.2 L270,187.5 L287.5,185.5 L310,184.5"/>
<path d="M310,129.5 L310,184.5 L316.2,190 L317.5,195 L312.5,201.2 L308.8,208.8 L307.5,216.2 L310,220 L310.2,226.7 L310.2,260.3"/>
<path d="M324.5,129.5 L325,147.5 L330,156.2 L337.5,165 L345,172.5 L350.5,173.8 L350,185 L347,192.5 L352.5,195 L357.5,192.5 L361.2,200 L366.2,206.2 L370,215 L377.5,213.8 L387.5,212.5 L395,209.5 L399.2,213"/>
<path d="M202.3,260.3 L399.5,260.3"/>
<path d="M399.5,204.3 L504.1,204.3 L504.1,279 L399.5,279 L399.5,204.3"/>
<path d="M399.5,260.3 L399.5,279"/>
<path d="M504.1,129.5 L504.1,204.3"/>
<path d="M504.1,186.7 L616,186.7"/>
<path d="M265.8,260.3 L265.8,316.4 L345,389.3"/>
<path d="M354.8,260.3 L354.8,353.8 L355,354.2 L353.8,368 L352.5,370.5 L343.8,371 L345,378 L343.8,387.5 L346.2,393 L352.5,403 L350,410.5 L346.2,416 L343.8,416 L345,426 L346.2,433"/>
<path d="M354.8,353.8 L534,353.8 L645,353.8"/>
<path d="M429.4,279 L429.4,459.4"/>
<path d="M399.5,279 L534,279 L534,353.8"/>
<path d="M504.1,279 L504.1,241.6"/>
<path d="M534,297.7 L634.7,297.7"/>
<path d="M519.8,353.8 L519.8,363.1 L519.2,447.2 L466,447.2 L466.2,451.8"/>
<path d="M519.8,363.1 L564.6,363.1 L564.6,399.4 L563.8,397.5 L570,402.5 L580,405 L590,408.8 L600,412.5 L610,411.2 L620,414.5 L627.5,411.2 L635,410 L642.5,412.5 L646.2,416.2 L652.5,417.5 L652.5,427.5 L653.8,442.5 L656.2,452.5 L660,462.5 L658.8,472.5 L656.2,482.5 L652.5,487.5"/>
<path d="M645,353.8 L645,363.1 L647.8,383.7 L647.1,416.6"/>
<path d="M652.5,427.5 L695,427.5"/>
<path d="M504.1,241.6 L585.5,241.6 L583.8,240.8 L591.2,243.8 L602.5,245 L610,248.8 L616.2,255 L618.8,262.5 L621.2,268 L625,275.5 L626.2,285.5 L630,291.8 L635,298 L640,301.8 L640,305.5 L645,313 L645.1,353.8"/>
<path d="M617.5,232.5 L615,237.5 L616.2,245 L613.8,250 L616.2,255"/>
<path d="M605,129.5 L607.5,137.5 L610,147.5 L612.5,157.5 L612.5,167.5 L613.8,177.5 L615,186.2 L611.2,192.5 L616.2,198.8 L617.5,205 L617.5,232.5"/>
<path d="M617.6,232.3 L695.8,232.3"/>
<path d="M626.2,285.5 L690,285.5 L692.5,289.2"/>
<path d="M680,173.8 L680,182.5 L673.8,186.2 L670,192.5 L671.2,200 L673.8,206.2 L680,211.2 L687.5,218.8 L692.5,223.8 L695,231.2 L696.2,240 L700,246.2 L706.2,252.5 L708.8,258.8 L710,265 L708.8,268 L695,268 L700,273 L696.2,279.2 L691.2,285.5 L690,293 L695,300.5 L701.2,308 L703.8,316.8 L710,319.2 L708.8,328 L716.2,334.2 L722.5,343 L727.5,348 L726.2,354.2 L723.8,359.2 L720,365.5 L718.5,372.5 L716.2,371 L715,380 L711.2,387.5 L705,395 L700,402.5 L697.5,410 L695,417.5 L696.2,427.5 L698.8,435 L695,445 L691.2,455 L688.8,465 L717.5,465 L718.8,477.5 L720,482.5"/>
<path d="M645,363 L711.8,363 L710,372.5 L718.5,372.5"/>
<path d="M708.8,173.2 L720,178.8 L730,183.8 L740,187.5 L743.8,192.5 L746.2,200 L747.5,206.2 L745,211.2"/>
<path d="M705,251 L747,251"/>
<path d="M750,264.8 L750,268 L750,311.8 L747.5,321.8 L745,329.2 L742.5,335.5 L741.2,340.5"/>
<path d="M761.2,265 L815,266.8"/>
<path d="M791.2,265.8 L791.2,268 L791.2,315.5"/>
<path d="M727.5,348 L732.5,343 L741.2,340.5 L747.5,336.8 L755,335.5 L762.5,338 L766.2,334.2 L771.2,334.2 L776.2,329.2 L782.5,324.2 L790,319.2 L791.2,315.5 L795,314.4 L798.8,316.9 L802.5,319.4 L807.5,321.2 L812.5,322.5 L816.2,321.9 L820,321.2 L823.1,325 L826.2,326.9 L828.1,323.8 L830,320 L832.5,316.9 L835,314.4 L837.5,310.6 L841.2,308.8 L846.2,305 L850,301.2 L851.9,296.2 L853.8,292.5 L854.4,290 L855,268 L853.8,262.5"/>
<path d="M723.8,359.2 L742.5,359.2 L742.5,362.5 L808.2,361.2 L838.2,361.2"/>
<path d="M807.5,361.9 L810,361.2 L815,358.1 L820,354.4 L825,351.2 L830,348.8 L833.8,346.9 L832.5,345 L830,341.9 L826.9,338.1 L825,333.8 L824.4,330 L826.2,326.9"/>
<path d="M833.8,346.9 L837.5,349.4 L841.2,348.8 L845,346.9 L850,346.9 L855,345 L858.8,341.2 L861.2,337.5 L863.1,333.8 L865,330 L866.9,326.2 L870,323.8 L872.5,325.6 L875,322.5 L878.1,319.4 L881.2,316.9 L883.8,314.4 L885,310.6 L887.5,306.9 L891.2,308.8 L895,313.1 L896.9,310.6"/>
<path d="M854.4,290 L854.4,302.5 L926.2,302.5 L926.2,302.5"/>
<path d="M868.8,302.5 L869,312.5 L876.2,307.5 L882.5,304.4 L887.5,304 L892.5,305.6 L896.9,310.6 L901.2,315 L906.2,318.1 L903.8,322.5 L902.5,326.2 L905,328.1 L908.8,326.9 L911.2,329.4 L913.8,332.5 L916.2,336.2"/>
<path d="M926.2,302.5 L928.1,325 L936.2,325"/>
<path d="M926.2,302.5 L926.9,304 L928.1,302.5 L932.5,300.6 L938.8,297.5 L941.2,293.1 L937.5,290 L933.8,286.2 L935,282.5 L937.5,277.5 L940,273.1 L937.5,270 L936.9,266.2 L934.4,262.5 L931.9,260 L867,260.3 L867,255.3"/>
<path d="M931.9,260 L867,260.3"/>
<path d="M940,273.1 L955,278.1"/>
<path d="M960,203.8 L961.2,212.5 L962.5,220 L963.8,230 L961.2,230 L961.9,246.2 L960.6,258.1 L958.8,277.5 L956.2,278.5"/>
<path d="M991.2,200.5 L987.5,212.5 L983.8,220 L980,230 L976.2,240 L973.8,246.2"/>
<path d="M997,199.5 L997.5,220 L998.8,237.5 L1000,242.5"/>
<path d="M961.9,246.2 L992.5,246.2 L998.8,243.1"/>
<path d="M960.6,258.8 L986.2,259 L991.9,259 L993.1,266.2"/>
<path d="M986.2,259 L986.2,271.2"/>
<path d="M709.5,391.2 L812.5,391.2 L848.8,388 L852.5,393 L870,394.2 L870,395 L885,411.2"/>
<path d="M838.2,361.2 L833.8,366.8 L827.5,373 L820,379.2 L815,385.5 L812.5,391.2"/>
<path d="M741.2,391.2 L737.5,475"/>
<path d="M780,391 L787.5,440 L786.2,452.5 L787.5,465 L788.8,470.5 L830,474.5 L830,477.5 L832.5,471.2 L838.8,470"/>
<path d="M748.8,466.2 L787.5,466.2"/>
<path d="M748.8,466.2 L751.2,475"/>
<path d="M812.5,392.5 L817.5,401.2 L825,412.5 L832.5,422.5 L838.8,431.2 L843.8,440 L847.5,445"/>
<path d="M808.4,362.2 L924.6,362.2"/>
</g>
<path d="M955,285 L962.5,283.1 L970,281.2 L977.5,279.4 L983.8,277.5 L980,276.2 L972.5,277.5 L965,279.4 L957.5,281.9 L953.8,283.8Z" fill="#E6F598" stroke="#000" stroke-width="1.8" stroke-linejoin="round"/>
<path d="M723.8,151.2 L730,147.5 L737,144.2 L737.5,145.8 L731.2,149.5 L725,152.5Z" fill="#F46D43"/>
<path d="M797.5,175 L801.2,175 L801.2,176.9 L797.8,176.9Z" fill="#F46D43"/>
<path d="M805,183.1 L810.6,183.1 L810.6,187.5 L805.6,187.5Z" fill="#F46D43"/>
<path d="M777.5,188.1 L782.5,188.1 L782.5,193.1 L778.1,193.1Z" fill="#FDAE61"/>
<path d="M770,200 L775,199.4 L773.8,205 L770.6,205Z" fill="#FEE08B"/>
<g fill="none" stroke="#000" stroke-width="3.2" stroke-linejoin="round" stroke-linecap="round">
<path d="M218.1,132.5 L222.5,131.9 L226.2,133.8 L228.1,137.5 L230,141.2 L228.8,145 L231.2,147.5 L228.8,151.2 L230,156.2 L227.5,161.2 L222.5,165 L220,162.5 L221.2,157.5 L223.8,153.8 L225,148.8 L226.2,143.8 L225,140 L222.5,137.5 L218.8,136.2"/>
<path d="M222.5,138.8 L223.8,145 L222.5,151.2 L220.6,157.5"/>
<path d="M911.2,366.2 L910.6,372.5 L915,371.9 L920,368.8 L923.8,367.5 L925,372.5 L922.5,377.5 L919.4,378.8 L921.9,381.2 L925,378.8"/>
<path d="M906.2,382.5 L910,381.9 L915,380.6 L912.5,385 L908.8,388.8 L905.6,389.4 L910,391.2 L915,392.5 L918.1,390"/>
<path d="M900,396.2 L901.9,397.5 L903.8,396.9"/>
</g>
<g fill="none" stroke="#000" stroke-width="2.4" stroke-linejoin="round" stroke-linecap="round">
<path d="M916.2,308.8 L916.2,313.8 L917.5,320 L915,326.2 L916.2,331.2 L915,336.2 L913.8,342.5 L911.2,347.5 L908.8,349.4 L912.5,352.5 L916.2,353.8 L920,353.8 L922.5,352.5"/>
<path d="M920,308.8 L921.2,317.5 L920,326.2 L921.2,332.5 L923.8,338.8 L925,345 L922.5,351.2"/>
<path d="M915,336.2 L918.1,341.2 L917.5,347.5 L920,351.2"/>
<path d="M707.5,479.8 L711.2,476.5 L716.2,477.2 L720,481 L717.5,484.8 L712.5,486 L708.8,483.5Z"/>
<path d="M723.8,496 L726.2,492.2 L730,489.8 L731.2,486" stroke-width="1.5"/>
</g>
<circle cx="231.2" cy="336" r="2.6" fill="#000"/>
<circle cx="233" cy="340.5" r="1.8" fill="#000"/>
<circle cx="822.5" cy="523.5" r="3" fill="#000"/>
<circle cx="829.5" cy="542.2" r="2.2" fill="#000"/>
<circle cx="847.5" cy="574" r="2.5" fill="#000"/>
<circle cx="641.2" cy="491" r="2.6" fill="#000"/>
<circle cx="615" cy="508.5" r="2.4" fill="#000"/>
<circle cx="618.8" cy="506.8" r="2" fill="#000"/>
<circle cx="600" cy="532.2" r="2.2" fill="#000"/>
<circle cx="598" cy="534.8" r="1.8" fill="#000"/>
<circle cx="612.5" cy="511.5" r="1.8" fill="#000"/>
<circle cx="1000" cy="272.5" r="2.6" fill="#000"/>
<circle cx="1010" cy="273.1" r="2.4" fill="#000"/>
<circle cx="1007.5" cy="270" r="1.5" fill="#000"/>
<circle cx="762.5" cy="189.4" r="2.4" fill="#000"/>
<circle cx="780" cy="205" r="2.8" fill="#000"/>
<circle cx="779.4" cy="203.1" r="2" fill="#000"/>
<circle cx="995" cy="266.2" r="2" fill="#000"/>
<circle cx="993.1" cy="267.5" r="2" fill="#000"/>
<circle cx="822.5" cy="523.8" r="3" fill="#000"/>
<circle cx="949.4" cy="287.5" r="2.4" fill="#000"/>
<circle cx="955" cy="278.1" r="2" fill="#000"/>
<g fill="#5E4FA2">
<rect x="822" y="582" width="3" height="1.5"/>
<rect x="828" y="584" width="4" height="1.5"/>
<rect x="835" y="583" width="5" height="2"/>
<rect x="842" y="581" width="4" height="2"/>
<rect x="848" y="579" width="4" height="2"/>
<rect x="853" y="576" width="3" height="2"/>
<rect x="857" y="572" width="2" height="2"/>
<rect x="819" y="584" width="2" height="1"/>
<rect x="271" y="423" width="4" height="1.5"/>
<rect x="276" y="425" width="2" height="1.5"/>
<rect x="280" y="419" width="1.5" height="1.5"/>
<rect x="286" y="420" width="3" height="2"/>
<rect x="287" y="428" width="2" height="3"/>
<rect x="289" y="431" width="2" height="2"/>
<rect x="260" y="409" width="2" height="1.5"/>
</g>
<g fill="none" stroke="#0000ff" stroke-width="2.2">
<path d="M610,131.2 L613,133.8 L616.2,136.2"/>
<path d="M636.2,123 L642.5,123 L642.5,125"/>
<path d="M650,135 L653.8,138.8 L660,141.2"/>
<path d="M666.2,140 L670,143.8 L673.8,145"/>
<path d="M677.5,148 L683,149.5 L683.8,155 L680,157 L677,152.5 L677.5,148"/>
<path d="M686.2,158.8 L688.8,162.5"/>
<path d="M695,145 L702.5,146.2 L705,148 L715,148"/>
</g>
<circle cx="1017.5" cy="170.0" r="2" fill="#0000ff"/>
<g clip-path="url(#us)"><g fill="none" stroke="#ff00ff" stroke-width="2.6" stroke-linejoin="miter">
<path d="M242.5,130 L242.5,132.5 L243.75,132.5 L243.75,135 L243.75,138.75 L243.75,141.25 L245,141.25 L245,143.75 L246.25,143.75 L246.25,146.25 L246.25,147.5 L246.25,151.25 L246.25,155 L246.25,156.25 L246.25,158.75 L246.25,160 L246.25,162.5 L246.25,166.25 L246.25,170 L245,170 L245,173.75 L245,176.25 L245,177.5 L243.75,177.5 L243.75,180 L243.75,182.5 L243.75,185 L243.75,187.5 L242.5,187.5 L242.5,191.25 L242.5,195 L242.5,198.75 L241.25,198.75 L241.25,202.5 L240,202.5 L240,203.75 L240,207.5 L240,210 L240,211.25 L241.25,211.25 L241.25,213.75 L240,213.75 L240,215 L241.25,215 L241.25,220 L240,220 L240,222.5 L238.75,222.5 L238.75,223.75 L237.5,223.75 L237.5,227.5 L237.5,228.75 L236.25,228.75 L236.25,230 L236.25,231.25 L235,231.25 L235,236.25 L235,240 L233.75,240 L233.75,241.25 L233.75,242.5 L232.5,242.5 L232.5,245 L232.5,247.5 L232.5,251.25 L232.5,255 L235,255 L235,257.5 L236.25,257.5 L236.25,260 L238.75,260 L238.75,261.25 L242.5,261.25 L242.5,263.75 L246.25,263.75 L246.25,265 L246.25,270 L247.5,270 L247.5,271.25 L248.75,271.25 L248.75,273.75 L250,273.75 L250,275 L251.25,275 L251.25,277.5 L252.5,277.5 L252.5,281.25 L255,281.25 L255,282.5 L256.25,282.5 L256.25,285 L256.25,286.25 L256.25,290 L255,290 L255,291.25 L257.5,291.25 L257.5,295 L258.75,295 L258.75,296.25 L261.25,296.25 L261.25,297.5 L262.5,297.5 L262.5,298.75 L262.5,302.5 L262.5,305 L263.75,305 L263.75,307.5 L263.75,310 L263.75,312.5 L265,312.5 L265,315 L266.25,315 L266.25,317.5 L268.75,317.5 L268.75,320 L271.25,320 L271.25,318.75 L275,318.75 L275,317.5 L280,317.5 L280,320 L281.25,320 L281.25,322.5 L285,322.5 L285,325 L286.25,325 L286.25,326.25 L288.75,326.25 L288.75,325 L291.25,325 L292.5,325 L292.5,326.25 L295,326.25 L295,330 L298.75,330 L298.75,327.5 L300,327.5 L300,326.25 L302.5,326.25 L302.5,328.75 L303.75,328.75 L303.75,330 L306.25,330 L306.25,332.5 L308.75,332.5 L308.75,333.75 L310,333.75 L310,336.25 L313.75,336.25 L313.75,338.75 L315,338.75 L315,342.5 L317.5,342.5 L317.5,343.75 L321.25,343.75 L321.25,346.25 L323.75,346.25 L323.75,347.5 L326.25,347.5 L326.25,345 L327.5,345 L327.5,341.25 L328.75,341.25 L328.75,337.5 L331.25,337.5 L331.25,333.75 L332.5,333.75 L332.5,337.5 L333.75,337.5 L333.75,340 L335,340 L335,343.75 L337.5,343.75 L337.5,342.5 L338.75,342.5 L338.75,341.25 L341.25,341.25 L341.25,338.75 L342.5,338.75 L342.5,337.5 L343.75,337.5 L343.75,340 L345,340 L345,343.75 L348.75,343.75 L348.75,341.25 L351.25,341.25 L351.25,338.75 L352.5,338.75 L352.5,342.5 L353.75,342.5 L353.75,345 L357.5,345 L357.5,346.25 L360,346.25 L363.75,346.25 L363.75,343.75 L365,343.75 L365,341.25 L365,343.75 L366.25,343.75 L366.25,347.5 L366.25,348.75 L363.75,348.75 L363.75,351.25 L362.5,351.25 L362.5,353.75 L362.5,357.5 L361.25,357.5 L361.25,360 L360,360 L360,362.5 L360,365 L360,367.5 L361.25,367.5 L361.25,363.75 L363.75,363.75 L363.75,361.25 L366.25,361.25 L366.25,358.75 L367.5,358.75 L367.5,355 L370,355 L370,356.25 L372.5,356.25 L376.25,356.25 L376.25,355 L377.5,355 L377.5,352.5 L378.75,352.5 L378.75,356.25 L380,356.25 L380,360 L381.25,360 L381.25,362.5 L382.5,362.5 L382.5,366.25 L378.75,366.25 L376.25,366.25 L376.25,368.75 L375,368.75 L375,370 L373.75,370 L373.75,373.75 L370,373.75 L370,376.25 L367.5,376.25 L367.5,380 L366.25,380 L366.25,382.5 L365,382.5 L365,385 L365,387.5 L366.25,387.5 L366.25,390 L367.5,390 L367.5,391.25 L370,391.25 L372.5,391.25 L376.25,391.25 L376.25,392.5 L378.75,392.5 L378.75,393.75 L381.25,393.75 L381.25,395 L383.75,395 L383.75,396.25 L387.5,396.25 L387.5,397.5 L391.25,397.5 L391.25,396.25 L393.75,396.25 L393.75,397.5 L396.25,397.5 L398.75,397.5 L398.75,401.25 L400,401.25 L400,402.5 L402.5,402.5 L402.5,406.25 L405,406.25 L405,407.5 L406.25,407.5 L406.25,411.25 L410,411.25 L410,412.5 L412.5,412.5 L412.5,413.75 L413.75,413.75 L413.75,415"/>
<path d="M420,416.25 L422.5,416.25 L425,416.25 L425,415 L428.75,415 L428.75,416.25 L431.25,416.25 L431.25,417.5 L433.75,417.5 L433.75,418.75 L436.25,418.75 L436.25,421.25 L437.5,421.25 L437.5,423.75 L440,423.75 L440,427.5 L442.5,427.5 L442.5,428.75 L443.75,428.75 L443.75,426.25 L446.25,426.25 L446.25,425 L448.75,425 L448.75,421.25 L450,421.25 L450,418.75 L451.25,418.75 L451.25,416.25 L452.5,416.25 L452.5,413.75 L453.75,413.75 L453.75,412.5 L453.75,408.75 L455,408.75 L455,406.25 L455,405 L457.5,405 L457.5,403.75 L461.25,403.75 L461.25,402.5 L462.5,402.5 L462.5,398.75 L465,398.75 L465,396.25 L465,393.75 L466.25,393.75 L466.25,396.25 L467.5,396.25 L467.5,398.75 L471.25,398.75 L471.25,401.25 L472.5,401.25 L472.5,402.5 L475,402.5 L475,405 L476.25,405 L476.25,406.25 L478.75,406.25 L482.5,406.25 L482.5,405 L483.75,405 L483.75,403.75 L487.5,403.75 L487.5,406.25 L490,406.25 L490,407.5 L491.25,407.5 L491.25,410 L492.5,410 L492.5,412.5 L496.25,412.5 L496.25,415 L498.75,415 L498.75,417.5 L500,417.5 L503.75,417.5 L503.75,418.75 L505,418.75 L505,421.25 L506.25,421.25 L506.25,422.5 L507.5,422.5 L507.5,425 L508.75,425 L508.75,426.25 L511.25,426.25 L511.25,427.5 L513.75,427.5 L513.75,426.25 L515,426.25 L515,422.5 L516.25,422.5 L516.25,418.75 L516.25,416.25 L521.25,416.25 L521.25,415 L523.75,415 L523.75,413.75 L525,413.75 L525,412.5 L527.5,412.5 L527.5,410 L530,410 L530,408.75 L531.25,408.75 L531.25,407.5 L533.75,407.5 L533.75,406.25 L535,406.25 L535,403.75 L537.5,403.75 L537.5,400 L537.5,397.5 L536.25,397.5 L536.25,393.75 L535,393.75 L535,392.5 L535,390 L533.75,390 L533.75,387.5 L532.5,387.5 L532.5,383.75 L532.5,382.5 L532.5,378.75 L533.75,378.75 L536.25,378.75 L536.25,376.25 L538.75,376.25 L541.25,376.25 L543.75,376.25 L543.75,373.75 L545,373.75 L548.75,373.75 L551.25,373.75 L553.75,373.75 L553.75,372.5 L556.25,372.5 L558.75,372.5 L561.25,372.5 L563.75,372.5 L563.75,371.25 L565,371.25 L565,368.75 L567.5,368.75 L567.5,366.25 L568.75,366.25 L568.75,362.5 L570,362.5 L570,365 L570,367.5 L571.25,367.5 L571.25,370 L573.75,370 L573.75,373.75 L573.75,375 L577.5,375 L577.5,371.25 L578.75,371.25 L578.75,368.75 L581.25,368.75 L581.25,367.5 L582.5,367.5 L582.5,365 L585,365 L585,362.5 L586.25,362.5 L586.25,358.75 L588.75,358.75 L591.25,358.75 L591.25,356.25 L592.5,356.25 L592.5,353.75 L593.75,353.75 L593.75,356.25 L595,356.25 L595,360 L595,361.25 L596.25,361.25 L596.25,363.75 L596.25,367.5 L600,367.5 L603.75,367.5 L603.75,368.75 L603.75,366.25 L603.75,363.75 L605,363.75 L605,361.25 L605,360 L607.5,360 L607.5,357.5 L610,357.5 L610,356.25 L611.25,356.25 L611.25,352.5 L613.75,352.5 L613.75,350 L616.25,350 L617.5,350 L620,350 L621.25,350 L621.25,348.75 L623.75,348.75 L623.75,346.25 L626.25,346.25 L626.25,345 L630,345 L630,342.5 L631.25,342.5 L631.25,345 L633.75,345 L633.75,348.75 L636.25,348.75 L636.25,345 L638.75,345 L638.75,342.5 L642.5,342.5 L642.5,345 L646.25,345 L646.25,347.5 L648.75,347.5 L648.75,350 L650,350 L650,352.5 L652.5,352.5 L652.5,353.75 L653.75,353.75 L653.75,356.25 L657.5,356.25 L657.5,357.5 L660,357.5 L660,358.75 L662.5,358.75 L662.5,360 L666.25,360 L667.5,360 L670,360 L673.75,360 L676.25,360 L678.75,360 L681.25,360 L681.25,363.75 L682.5,363.75 L682.5,365 L685,365 L685,366.25 L686.25,366.25 L686.25,367.5 L688.75,367.5 L688.75,371.25 L691.25,371.25 L691.25,368.75 L693.75,368.75 L693.75,365 L696.25,365 L696.25,363.75 L698.75,363.75 L701.25,363.75 L702.5,363.75 L702.5,362.5 L706.25,362.5 L706.25,361.25 L708.75,361.25 L708.75,360 L710,360 L710,358.75 L712.5,358.75 L712.5,357.5 L716.25,357.5 L716.25,356.25 L718.75,356.25 L718.75,353.75 L720,353.75 L720,351.25 L722.5,351.25 L722.5,350 L723.75,350 L723.75,347.5 L726.25,347.5 L726.25,345 L728.75,345 L728.75,342.5 L730,342.5 L730,345 L733.75,345 L733.75,347.5 L735,347.5 L735,348.75 L738.75,348.75 L740,348.75 L740,350 L743.75,350 L746.25,350 L746.25,348.75 L747.5,348.75 L750,348.75 L752.5,348.75 L752.5,350 L755,350 L756.25,350 L758.75,350 L758.75,351.25 L761.25,351.25 L761.25,352.5 L765,352.5 L767.5,352.5 L767.5,350 L768.75,350 L768.75,348.75 L771.25,348.75 L771.25,346.25 L773.75,346.25 L773.75,348.75 L776.25,348.75 L776.25,350 L778.75,350 L778.75,351.25 L782.5,351.25 L782.5,352.5 L785,352.5 L787.5,352.5 L791.25,352.5 L793.75,352.5 L793.75,353.75 L796.25,353.75 L796.25,355 L797.5,355 L801.25,355 L801.25,353.75 L803.75,353.75 L801.25,353.75 L803.75,353.75 L803.75,352.5 L805,352.5 L805,353.75 L806.25,353.75 L808.75,353.75 L808.75,352.5 L812.5,352.5 L813.75,352.5 L815,352.5 L815,355 L817.5,355 L817.5,357.5 L820,357.5 L820,360 L822.5,360 L822.5,361.25 L823.75,361.25 L823.75,365 L826.25,365 L826.25,367.5 L823.75,367.5 L823.75,370 L822.5,370 L822.5,371.25 L820,371.25 L820,373.75 L817.5,373.75 L817.5,375 L816.25,375 L816.25,376.25 L813.75,376.25 L813.75,378.75 L811.25,378.75 L811.25,382.5 L810,382.5 L810,383.75 L808.75,383.75 L808.75,386.25 L810,386.25 L810,388.75 L811.25,388.75 L811.25,391.25 L813.75,391.25 L813.75,390 L816.25,390 L816.25,388.75 L817.5,388.75 L817.5,387.5 L820,387.5 L820,386.25 L822.5,386.25 L822.5,383.75 L825,383.75 L825,381.25 L827.5,381.25 L831.25,381.25 L831.25,378.75 L833.75,378.75 L836.25,378.75 L836.25,376.25 L838.75,376.25 L838.75,373.75 L841.25,373.75 L841.25,371.25 L843.75,371.25 L843.75,370 L846.25,370 L846.25,368.75 L848.75,368.75 L848.75,367.5 L851.25,367.5 L851.25,370 L853.75,370 L853.75,366.25 L855,366.25 L855,363.75 L857.5,363.75 L861.25,363.75 L861.25,361.25 L862.5,361.25 L862.5,358.75 L862.5,356.25 L862.5,353.75 L863.75,353.75 L863.75,351.25 L865,351.25 L865,348.75 L866.25,348.75 L866.25,346.25 L868.75,346.25 L870,346.25 L870,345 L870,347.5 L871.25,347.5 L871.25,351.25 L872.5,351.25 L872.5,353.75 L873.75,353.75 L873.75,356.25 L876.25,356.25 L876.25,355 L878.75,355 L878.75,353.75 L881.25,353.75 L881.25,351.25 L883.75,351.25 L883.75,348.75 L886.25,348.75 L890,348.75 L890,347.5 L891.25,347.5 L891.25,348.75 L895,348.75 L895,350 L897.5,350 L898.75,350 L898.75,347.5 L898.75,343.75 L901.25,343.75 L901.25,341.25 L903.75,341.25 L903.75,338.75 L906.25,338.75 L906.25,340 L908.75,340 L908.75,341.25 L910,341.25 L910,338.75 L911.25,338.75 L911.25,336.25 L912.5,336.25 L912.5,333.75 L911.25,333.75 L911.25,331.25 L910,331.25 L910,327.5 L913.75,327.5 L913.75,325 L916.25,325 L916.25,322.5 L917.5,322.5 L917.5,326.25 L917.5,328.75 L920,328.75 L920,330 L922.5,330 L922.5,332.5 L923.75,332.5 L923.75,333.75 L927.5,333.75 L927.5,335 L927.5,332.5 L928.75,332.5 L928.75,328.75 L931.25,328.75 L931.25,327.5 L933.75,327.5 L933.75,326.25 L933.75,323.75 L936.25,323.75 L936.25,320 L936.25,317.5 L933.75,317.5 L933.75,313.75 L931.25,313.75 L931.25,311.25 L935,311.25 L935,313.75 L937.5,313.75 L937.5,315 L938.75,315 L938.75,316.25 L941.25,316.25 L941.25,312.5 L942.5,312.5 L942.5,310 L945,310 L945,307.5"/>
<path d="M246.25,183.75 L246.25,180 L246.25,178.75 L245,178.75 L245,175 L248.75,175 L248.75,173.75 L251.25,173.75 L252.5,173.75 L252.5,170 L252.5,167.5 L253.75,167.5 L253.75,165 L255,165 L255,162.5 L257.5,162.5 L257.5,161.25 L257.5,160 L261.25,160 L261.25,157.5 L262.5,157.5 L262.5,153.75 L263.75,153.75 L263.75,151.25 L268.75,151.25 L268.75,150 L271.25,150 L272.5,150 L275,150 L275,148.75 L277.5,148.75 L277.5,150 L280,150 L282.5,150 L282.5,151.25 L285,151.25 L285,153.75 L287.5,153.75 L287.5,155 L291.25,155 L291.25,153.75 L293.75,153.75 L293.75,155 L296.25,155 L298.75,155 L298.75,156.25 L300,156.25 L300,155 L303.75,155 L303.75,152.5 L306.25,152.5 L306.25,151.25 L308.75,151.25 L308.75,150 L310,150 L310,152.5 L310,156.25 L311.25,156.25 L311.25,160 L312.5,160 L312.5,162.5 L312.5,163.75 L311.25,163.75 L311.25,167.5 L311.25,168.75 L312.5,168.75 L312.5,171.25 L315,171.25 L315,172.5 L318.75,172.5 L318.75,173.75 L321.25,173.75 L321.25,175 L325,175 L325,176.25 L327.5,176.25 L330,176.25 L330,178.75 L332.5,178.75 L332.5,180 L330,180 L330,182.5 L327.5,182.5 L327.5,183.75 L325,183.75 L325,185 L322.5,185 L322.5,183.75 L318.75,183.75 L317.5,183.75 L317.5,187.5 L317.5,190 L316.25,190 L316.25,191.25 L315,191.25 L315,193.75 L313.75,193.75 L313.75,191.25 L312.5,191.25 L312.5,190 L311.25,190 L311.25,187.5 L310,187.5 L310,186.25 L306.25,186.25 L303.75,186.25 L303.75,187.5 L301.25,187.5 L298.75,187.5 L296.25,187.5 L296.25,191.25 L293.75,191.25 L293.75,193.75 L291.25,193.75 L291.25,195 L287.5,195 L286.25,195 L286.25,196.25 L283.75,196.25 L283.75,198.75 L281.25,198.75 L281.25,200 L281.25,203.75 L280,203.75 L280,205 L278.75,205 L278.75,207.5 L275,207.5 L275,208.75 L275,211.25 L272.5,211.25 L272.5,213.75 L270,213.75 L270,212.5 L267.5,212.5 L265,212.5 L265,210 L262.5,210 L260,210 L258.75,210 L258.75,211.25 L256.25,211.25 L256.25,212.5 L252.5,212.5 L248.75,212.5 L245,212.5 L243.75,212.5 L243.75,213.75 L241.25,213.75 L241.25,211.25 L238.75,211.25 L238.75,207.5 L238.75,205 L240,205 L240,203.75 L240,201.25 L241.25,201.25 L241.25,198.75 L242.5,198.75 L242.5,196.25 L246.25,196.25 L246.25,195 L250,195 L253.75,195 L253.75,193.75 L255,193.75 L255,191.25 L253.75,191.25 L253.75,190 L251.25,190 L251.25,188.75 L248.75,188.75 L248.75,187.5 L247.5,187.5 L247.5,182.5Z"/>
<path d="M308.75,216.25 L312.5,216.25 L312.5,217.5 L315,217.5 L315,218.75 L316.25,218.75 L316.25,220 L318.75,220 L318.75,222.5 L320,222.5 L320,223.75 L320,226.25 L322.5,226.25 L322.5,227.5 L326.25,227.5 L326.25,231.25 L328.75,231.25 L328.75,232.5 L330,232.5 L330,233.75 L332.5,233.75 L333.75,233.75 L333.75,235 L335,235 L335,236.25 L337.5,236.25 L337.5,238.75 L338.75,238.75 L338.75,241.25 L341.25,241.25 L341.25,242.5 L343.75,242.5 L343.75,243.75 L346.25,243.75 L346.25,246.25 L348.75,246.25 L348.75,248.75 L351.25,248.75 L352.5,248.75 L352.5,250 L355,250 L355,252.5 L357.5,252.5 L357.5,255 L355,255 L355,256.25 L350,256.25 L350,255 L348.75,255 L348.75,253.75 L346.25,253.75 L346.25,252.5 L342.5,252.5 L341.25,252.5 L341.25,251.25 L337.5,251.25 L337.5,250 L336.25,250 L336.25,248.75 L333.75,248.75 L333.75,246.25 L331.25,246.25 L331.25,245 L330,245 L330,242.5 L327.5,242.5 L327.5,241.25 L323.75,241.25 L323.75,240 L321.25,240 L318.75,240 L318.75,238.75 L316.25,238.75 L316.25,236.25 L315,236.25 L315,235 L311.25,235 L308.75,235 L308.75,232.5 L308.75,230 L307.5,230 L307.5,228.75 L306.25,228.75 L306.25,226.25 L306.25,222.5 L307.5,222.5 L307.5,218.75 L307.5,216.25Z"/>
<path d="M267.5,283.75 L271.25,283.75 L271.25,282.5 L272.5,282.5 L273.75,282.5 L277.5,282.5 L277.5,283.75 L280,283.75 L281.25,283.75 L282.5,283.75 L282.5,287.5 L283.75,287.5 L283.75,290 L283.75,292.5 L285,292.5 L285,295 L286.25,295 L286.25,296.25 L285,296.25 L285,298.75 L283.75,298.75 L283.75,300 L282.5,300 L282.5,303.75 L280,303.75 L280,305 L278.75,305 L278.75,307.5 L277.5,307.5 L277.5,308.75 L276.25,308.75 L276.25,305 L272.5,305 L272.5,303.75 L271.25,303.75 L271.25,301.25 L268.75,301.25 L268.75,300 L268.75,296.25 L268.75,293.75 L270,293.75 L270,292.5 L268.75,292.5 L268.75,288.75 L268.75,286.25 L267.5,286.25 L267.5,282.5Z"/>
<path d="M355,355 L357.5,355 L358.75,355 L361.25,355 L361.25,353.75 L363.75,353.75 L363.75,352.5 L366.25,352.5 L368.75,352.5 L368.75,351.25 L372.5,351.25 L372.5,352.5 L373.75,352.5 L376.25,352.5 L376.25,355 L380,355 L380,356.25 L382.5,356.25 L382.5,358.75 L385,358.75 L385,360 L386.25,360 L386.25,362.5 L388.75,362.5 L388.75,363.75 L390,363.75 L390,366.25 L391.25,366.25 L391.25,368.75 L392.5,368.75 L392.5,370 L391.25,370 L391.25,372.5 L388.75,372.5 L388.75,373.75 L386.25,373.75 L386.25,375 L382.5,375 L382.5,373.75 L380,373.75 L380,371.25 L377.5,371.25 L377.5,370 L373.75,370 L373.75,367.5 L371.25,367.5 L371.25,366.25 L368.75,366.25 L368.75,365 L366.25,365 L366.25,363.75 L363.75,363.75 L363.75,362.5 L361.25,362.5 L360,362.5 L357.5,362.5 L357.5,363.75 L353.75,363.75 L355,363.75 L355,362.5 L355,358.75 L355,357.5 L356.25,357.5 L356.25,355Z"/>
<path d="M381.25,353.75 L382.5,353.75 L382.5,352.5 L382.5,350 L386.25,350 L386.25,348.75 L388.75,348.75 L388.75,347.5 L391.25,347.5 L391.25,346.25 L392.5,346.25 L392.5,343.75 L393.75,343.75 L393.75,340 L393.75,337.5 L395,337.5 L395,333.75 L395,331.25 L395,328.75 L395,325 L398.75,325 L398.75,323.75 L403.75,323.75 L403.75,327.5 L408.75,327.5 L411.25,327.5 L413.75,327.5 L413.75,325 L415,325 L415,321.25 L417.5,321.25 L417.5,320 L421.25,320 L422.5,320 L422.5,318.75 L425,318.75 L425,320 L427.5,320 L427.5,318.75 L427.5,321.25 L427.5,323.75 L426.25,323.75 L426.25,326.25 L425,326.25 L425,328.75 L422.5,328.75 L422.5,331.25 L421.25,331.25 L421.25,332.5 L418.75,332.5 L418.75,335 L416.25,335 L416.25,336.25 L415,336.25 L415,338.75 L415,342.5 L415,345 L420,345 L420,341.25 L421.25,341.25 L426.25,341.25 L426.25,340 L426.25,343.75 L427.5,343.75 L427.5,346.25 L425,346.25 L425,348.75 L421.25,348.75 L417.5,348.75 L417.5,350 L415,350 L415,351.25 L412.5,351.25 L412.5,352.5 L410,352.5 L410,353.75 L407.5,353.75 L403.75,353.75 L400,353.75 L400,356.25 L398.75,356.25 L398.75,357.5 L395,357.5 L395,358.75 L392.5,358.75 L392.5,361.25 L390,361.25 L390,363.75 L388.75,363.75 L386.25,363.75 L383.75,363.75 L383.75,367.5 L381.25,367.5 L381.25,368.75 L378.75,368.75 L378.75,370 L376.25,370 L376.25,368.75 L373.75,368.75 L373.75,367.5 L371.25,367.5 L371.25,366.25 L370,366.25 L370,363.75 L367.5,363.75 L367.5,360 L365,360 L365,357.5 L368.75,357.5 L368.75,355 L371.25,355 L371.25,353.75 L373.75,353.75 L373.75,352.5 L377.5,352.5 L377.5,355 L381.25,355 L381.25,352.5Z"/>
<path d="M370,270 L372.5,270 L376.25,270 L376.25,268.75 L378.75,268.75 L378.75,270 L381.25,270 L382.5,270 L382.5,271.25 L385,271.25 L385,272.5 L387.5,272.5 L390,272.5 L390,275 L390,276.25 L391.25,276.25 L391.25,278.75 L391.25,281.25 L391.25,283.75 L391.25,286.25 L390,286.25 L390,290 L388.75,290 L388.75,292.5 L387.5,292.5 L387.5,296.25 L385,296.25 L385,295 L382.5,295 L382.5,291.25 L378.75,291.25 L377.5,291.25 L377.5,288.75 L373.75,288.75 L373.75,290 L372.5,290 L368.75,290 L368.75,288.75 L368.75,287.5 L368.75,285 L367.5,285 L367.5,281.25 L367.5,278.75 L367.5,276.25 L368.75,276.25 L368.75,272.5 L370,272.5 L370,270Z"/>
<path d="M258.75,301.25 L261.25,301.25 L261.25,303.75 L263.75,303.75 L263.75,306.25 L265,306.25 L265,308.75 L266.25,308.75 L266.25,310 L267.5,310 L267.5,312.5 L268.75,312.5 L268.75,313.75 L271.25,313.75 L271.25,317.5 L271.25,321.25 L273.75,321.25 L273.75,323.75 L273.75,326.25 L275,326.25 L275,328.75 L276.25,328.75 L276.25,331.25 L277.5,331.25 L277.5,333.75 L278.75,333.75 L278.75,336.25 L280,336.25 L280,338.75 L281.25,338.75 L281.25,341.25 L283.75,341.25 L283.75,343.75 L285,343.75 L285,346.25 L286.25,346.25 L286.25,348.75 L287.5,348.75 L287.5,351.25 L287.5,353.75 L288.75,353.75 L288.75,355 L291.25,355 L291.25,357.5 L293.75,357.5 L293.75,360 L295,360 L295,362.5 L296.25,362.5 L296.25,366.25 L296.25,367.5 L292.5,367.5 L292.5,370 L290,370 L290,368.75 L290,366.25 L287.5,366.25 L287.5,363.75 L287.5,362.5 L286.25,362.5 L286.25,361.25 L285,361.25 L285,357.5 L282.5,357.5 L282.5,353.75 L281.25,353.75 L281.25,352.5 L281.25,348.75 L280,348.75 L280,347.5 L280,345 L278.75,345 L278.75,341.25 L276.25,341.25 L276.25,338.75 L275,338.75 L275,337.5 L273.75,337.5 L273.75,333.75 L271.25,333.75 L271.25,331.25 L270,331.25 L270,330 L268.75,330 L268.75,326.25 L267.5,326.25 L267.5,323.75 L266.25,323.75 L266.25,322.5 L265,322.5 L265,318.75 L263.75,318.75 L263.75,316.25 L262.5,316.25 L262.5,313.75 L261.25,313.75 L261.25,312.5 L260,312.5 L260,311.25 L260,307.5 L258.75,307.5 L258.75,303.75 L258.75,302.5Z"/>
<path d="M233.75,268.75 L237.5,268.75 L237.5,270 L238.75,270 L238.75,272.5 L241.25,272.5 L242.5,272.5 L242.5,271.25 L246.25,271.25 L246.25,270 L247.5,270 L247.5,271.25 L250,271.25 L250,273.75 L252.5,273.75 L252.5,276.25 L255,276.25 L255,275 L258.75,275 L258.75,272.5 L261.25,272.5 L261.25,273.75 L262.5,273.75 L262.5,275 L265,275 L265,277.5 L262.5,277.5 L262.5,278.75 L260,278.75 L260,281.25 L257.5,281.25 L255,281.25 L252.5,281.25 L252.5,280 L248.75,280 L248.75,281.25 L245,281.25 L245,282.5 L242.5,282.5 L242.5,281.25 L238.75,281.25 L238.75,280 L237.5,280 L237.5,277.5 L235,277.5 L235,276.25"/>
<path d="M266.25,292.5 L268.75,292.5 L268.75,291.25 L271.25,291.25 L271.25,290 L273.75,290 L273.75,288.75 L276.25,288.75 L276.25,290 L278.75,290 L282.5,290 L282.5,292.5 L283.75,292.5 L283.75,296.25 L283.75,297.5 L285,297.5 L285,300 L282.5,300 L282.5,303.75 L282.5,306.25 L280,306.25 L280,308.75 L276.25,308.75 L273.75,308.75 L273.75,307.5 L271.25,307.5 L271.25,306.25 L270,306.25 L270,303.75 L268.75,303.75 L268.75,301.25 L266.25,301.25 L266.25,298.75"/>
<path d="M240,273.75 L241.25,273.75 L241.25,276.25 L242.5,276.25 L242.5,278.75 L243.75,278.75 L243.75,281.25 L246.25,281.25 L246.25,282.5 L248.75,282.5 L248.75,283.75 L251.25,283.75 L251.25,282.5 L253.75,282.5"/>
<path d="M238.75,131.25 L241.25,131.25 L241.25,132.5 L243.75,132.5 L246.25,132.5 L246.25,133.75 L248.75,133.75 L248.75,132.5 L248.75,136.25 L247.5,136.25 L247.5,138.75 L247.5,141.25 L247.5,142.5 L247.5,145 L246.25,145 L246.25,147.5 L245,147.5 L245,150 L242.5,150 L242.5,152.5"/>
<path d="M270,130 L272.5,130 L272.5,132.5 L272.5,136.25 L272.5,138.75 L271.25,138.75 L271.25,140 L268.75,140 L268.75,142.5 L267.5,142.5 L267.5,143.75 L265,143.75 L262.5,143.75 L262.5,145 L260,145 L258.75,145 L258.75,147.5 L256.25,147.5 L256.25,150 L255,150 L255,151.25 L257.5,151.25 L257.5,153.75 L257.5,157.5 L255,157.5 L255,160 L253.75,160 L253.75,162.5 L252.5,162.5 L252.5,166.25 L251.25,166.25 L251.25,168.75 L251.25,170 L251.25,172.5 L253.75,172.5 L253.75,176.25 L256.25,176.25 L256.25,178.75 L257.5,178.75 L257.5,182.5 L257.5,186.25 L261.25,186.25"/>
<path d="M356.25,342.5 L353.75,342.5 L353.75,346.25 L352.5,346.25 L352.5,347.5 L352.5,350 L355,350 L355,351.25 L357.5,351.25 L357.5,352.5 L358.75,352.5 L361.25,352.5 L361.25,351.25"/>
<path d="M441.25,408.75 L443.75,408.75 L443.75,406.25 L446.25,406.25 L446.25,405 L448.75,405 L448.75,402.5 L448.75,400 L450,400 L450,397.5 L450,393.75 L451.25,393.75 L451.25,391.25 L453.75,391.25 L453.75,390 L455,390 L455,386.25 L457.5,386.25 L457.5,385 L460,385 L460,382.5 L463.75,382.5 L463.75,381.25 L466.25,381.25 L466.25,378.75 L468.75,378.75 L468.75,381.25 L472.5,381.25 L471.25,381.25 L471.25,385 L470,385 L470,387.5 L468.75,387.5 L468.75,388.75 L466.25,388.75 L466.25,391.25 L465,391.25 L465,393.75 L462.5,393.75 L462.5,396.25 L460,396.25 L460,398.75 L458.75,398.75 L458.75,401.25 L456.25,401.25 L456.25,402.5 L453.75,402.5 L453.75,403.75 L452.5,403.75 L452.5,406.25 L448.75,406.25 L448.75,408.75 L447.5,408.75 L447.5,411.25"/>
<path d="M505,403.75 L507.5,403.75 L508.75,403.75 L508.75,402.5 L511.25,402.5 L511.25,401.25 L512.5,401.25 L512.5,403.75 L515,403.75 L515,406.25 L516.25,406.25 L516.25,408.75 L515,408.75 L515,410 L512.5,410 L512.5,411.25 L511.25,411.25 L511.25,412.5"/>
</g>
<g fill="#ff00ff">
<rect x="310.4" y="275.4" width="3.2" height="3.2" transform="rotate(45 312 277)"/>
<rect x="285.9" y="291.9" width="3.8" height="3.8" transform="rotate(45 287.8 293.8)"/>
<rect x="297.4" y="281.6" width="3.2" height="3.2" transform="rotate(45 299 283.2)"/>
<rect x="284.5" y="283.9" width="2.6" height="2.6" transform="rotate(45 285.8 285.2)"/>
<rect x="311.8" y="266.6" width="4.4" height="4.4" transform="rotate(45 314 268.8)"/>
<rect x="284.8" y="288" width="4.4" height="4.4" transform="rotate(45 287 290.2)"/>
<rect x="285.9" y="275.5" width="2.6" height="2.6" transform="rotate(45 287.2 276.8)"/>
<rect x="299.8" y="273" width="4.4" height="4.4" transform="rotate(45 302 275.2)"/>
<rect x="286.9" y="271.9" width="2.6" height="2.6" transform="rotate(45 288.2 273.2)"/>
<rect x="311.6" y="285" width="4.4" height="4.4" transform="rotate(45 313.8 287.2)"/>
<rect x="302.5" y="281.5" width="2.6" height="2.6" transform="rotate(45 303.8 282.8)"/>
<rect x="311.9" y="293.4" width="3.2" height="3.2" transform="rotate(45 313.5 295)"/>
<rect x="308.5" y="289.9" width="2.6" height="2.6" transform="rotate(45 309.8 291.2)"/>
<rect x="301.7" y="289.5" width="2.6" height="2.6" transform="rotate(45 303 290.8)"/>
<rect x="289.7" y="283.9" width="2.6" height="2.6" transform="rotate(45 291 285.2)"/>
<rect x="291.8" y="280.3" width="4.4" height="4.4" transform="rotate(45 294 282.5)"/>
<rect x="308.4" y="292.4" width="3.2" height="3.2" transform="rotate(45 310 294)"/>
<rect x="287.2" y="279.4" width="3.2" height="3.2" transform="rotate(45 288.8 281)"/>
<rect x="309.5" y="277.2" width="2.6" height="2.6" transform="rotate(45 310.8 278.5)"/>
<rect x="280.1" y="283.6" width="3.8" height="3.8" transform="rotate(45 282 285.5)"/>
<rect x="308.6" y="278.1" width="3.8" height="3.8" transform="rotate(45 310.5 280)"/>
<rect x="317.3" y="290.8" width="4.4" height="4.4" transform="rotate(45 319.5 293)"/>
<rect x="280.9" y="279.7" width="2.6" height="2.6" transform="rotate(45 282.2 281)"/>
<rect x="284.7" y="281.2" width="2.6" height="2.6" transform="rotate(45 286 282.5)"/>
<rect x="311.6" y="291" width="4.4" height="4.4" transform="rotate(45 313.8 293.2)"/>
<rect x="300.8" y="267.6" width="4.4" height="4.4" transform="rotate(45 303 269.8)"/>
<rect x="287.5" y="312.9" width="2.6" height="2.6" transform="rotate(45 288.8 314.2)"/>
<rect x="300.3" y="298.8" width="4.4" height="4.4" transform="rotate(45 302.5 301)"/>
<rect x="285.6" y="302" width="4.4" height="4.4" transform="rotate(45 287.8 304.2)"/>
<rect x="285.9" y="313.2" width="3.2" height="3.2" transform="rotate(45 287.5 314.8)"/>
<rect x="290.2" y="311.5" width="2.6" height="2.6" transform="rotate(45 291.5 312.8)"/>
<rect x="287.7" y="297.5" width="2.6" height="2.6" transform="rotate(45 289 298.8)"/>
<rect x="306.8" y="298.6" width="4.4" height="4.4" transform="rotate(45 309 300.8)"/>
<rect x="307" y="306.3" width="4.4" height="4.4" transform="rotate(45 309.2 308.5)"/>
<rect x="368.5" y="307.2" width="2.6" height="2.6" transform="rotate(45 369.8 308.5)"/>
<rect x="367.1" y="314.9" width="3.8" height="3.8" transform="rotate(45 369 316.8)"/>
<rect x="361.2" y="341.9" width="2.6" height="2.6" transform="rotate(45 362.5 343.2)"/>
<rect x="371.9" y="295.7" width="2.6" height="2.6" transform="rotate(45 373.2 297)"/>
<rect x="376.9" y="292.2" width="2.6" height="2.6" transform="rotate(45 378.2 293.5)"/>
<rect x="368" y="329.8" width="4.4" height="4.4" transform="rotate(45 370.2 332)"/>
<rect x="356" y="345.6" width="4.4" height="4.4" transform="rotate(45 358.2 347.8)"/>
<rect x="360.3" y="341.3" width="4.4" height="4.4" transform="rotate(45 362.5 343.5)"/>
<rect x="357" y="338.6" width="4.4" height="4.4" transform="rotate(45 359.2 340.8)"/>
<rect x="380.7" y="307.9" width="2.6" height="2.6" transform="rotate(45 382 309.2)"/>
<rect x="380.9" y="309.9" width="3.2" height="3.2" transform="rotate(45 382.5 311.5)"/>
<rect x="377.6" y="346.6" width="4.4" height="4.4" transform="rotate(45 379.8 348.8)"/>
<rect x="384.8" y="335" width="4.4" height="4.4" transform="rotate(45 387 337.2)"/>
<rect x="368.3" y="314.1" width="3.8" height="3.8" transform="rotate(45 370.2 316)"/>
<rect x="363.9" y="334.1" width="3.8" height="3.8" transform="rotate(45 365.8 336)"/>
<rect x="383.5" y="307.5" width="2.6" height="2.6" transform="rotate(45 384.8 308.8)"/>
<rect x="356.2" y="312.5" width="2.6" height="2.6" transform="rotate(45 357.5 313.8)"/>
<rect x="358.7" y="339.2" width="2.6" height="2.6" transform="rotate(45 360 340.5)"/>
<rect x="369.7" y="340.9" width="2.6" height="2.6" transform="rotate(45 371 342.2)"/>
<rect x="373.1" y="338.3" width="3.8" height="3.8" transform="rotate(45 375 340.2)"/>
<rect x="378.3" y="328.6" width="3.8" height="3.8" transform="rotate(45 380.2 330.5)"/>
<rect x="352.3" y="320.6" width="4.4" height="4.4" transform="rotate(45 354.5 322.8)"/>
<rect x="354.2" y="332.2" width="2.6" height="2.6" transform="rotate(45 355.5 333.5)"/>
<rect x="363.7" y="328.9" width="2.6" height="2.6" transform="rotate(45 365 330.2)"/>
<rect x="352.6" y="334.4" width="3.2" height="3.2" transform="rotate(45 354.2 336)"/>
<rect x="368.5" y="336.9" width="2.6" height="2.6" transform="rotate(45 369.8 338.2)"/>
<rect x="332.8" y="314" width="4.4" height="4.4" transform="rotate(45 335 316.2)"/>
<rect x="345.3" y="312.3" width="3.8" height="3.8" transform="rotate(45 347.2 314.2)"/>
<rect x="346.9" y="339.4" width="3.2" height="3.2" transform="rotate(45 348.5 341)"/>
<rect x="337.7" y="331.7" width="2.6" height="2.6" transform="rotate(45 339 333)"/>
<rect x="319.3" y="340.8" width="4.4" height="4.4" transform="rotate(45 321.5 343)"/>
<rect x="335.8" y="313" width="4.4" height="4.4" transform="rotate(45 338 315.2)"/>
<rect x="325.3" y="328.1" width="3.8" height="3.8" transform="rotate(45 327.2 330)"/>
<rect x="329" y="317.8" width="4.4" height="4.4" transform="rotate(45 331.2 320)"/>
<rect x="338" y="339" width="4.4" height="4.4" transform="rotate(45 340.2 341.2)"/>
<rect x="344.2" y="337.6" width="3.2" height="3.2" transform="rotate(45 345.8 339.2)"/>
<rect x="248.1" y="267.9" width="3.8" height="3.8" transform="rotate(45 250 269.8)"/>
<rect x="253.8" y="271.6" width="4.4" height="4.4" transform="rotate(45 256 273.8)"/>
<rect x="243.2" y="275.2" width="3.2" height="3.2" transform="rotate(45 244.8 276.8)"/>
<rect x="244.6" y="280.4" width="3.2" height="3.2" transform="rotate(45 246.2 282)"/>
<rect x="246.6" y="268.6" width="3.8" height="3.8" transform="rotate(45 248.5 270.5)"/>
<rect x="251.3" y="273.9" width="3.8" height="3.8" transform="rotate(45 253.2 275.8)"/>
<rect x="250.9" y="278.9" width="2.6" height="2.6" transform="rotate(45 252.2 280.2)"/>
<rect x="250.1" y="278.1" width="3.8" height="3.8" transform="rotate(45 252 280)"/>
<rect x="245.3" y="283.1" width="3.8" height="3.8" transform="rotate(45 247.2 285)"/>
<rect x="252.3" y="273.3" width="4.4" height="4.4" transform="rotate(45 254.5 275.5)"/>
<rect x="293.9" y="253.2" width="2.6" height="2.6" transform="rotate(45 295.2 254.5)"/>
<rect x="293.3" y="249.3" width="3.8" height="3.8" transform="rotate(45 295.2 251.2)"/>
<rect x="283.4" y="254.6" width="3.2" height="3.2" transform="rotate(45 285 256.2)"/>
<rect x="278.6" y="251.8" width="4.4" height="4.4" transform="rotate(45 280.8 254)"/>
<rect x="289.6" y="224.9" width="3.8" height="3.8" transform="rotate(45 291.5 226.8)"/>
<rect x="305.3" y="232.6" width="4.4" height="4.4" transform="rotate(45 307.5 234.8)"/>
<rect x="293.5" y="214.7" width="2.6" height="2.6" transform="rotate(45 294.8 216)"/>
<rect x="279.1" y="253.9" width="3.8" height="3.8" transform="rotate(45 281 255.8)"/>
<rect x="292.5" y="240.7" width="2.6" height="2.6" transform="rotate(45 293.8 242)"/>
<rect x="277" y="219.3" width="4.4" height="4.4" transform="rotate(45 279.2 221.5)"/>
<rect x="294.5" y="220.2" width="2.6" height="2.6" transform="rotate(45 295.8 221.5)"/>
<rect x="284.1" y="226.3" width="3.8" height="3.8" transform="rotate(45 286 228.2)"/>
<rect x="305.6" y="252.9" width="3.8" height="3.8" transform="rotate(45 307.5 254.8)"/>
<rect x="297.3" y="219.3" width="3.8" height="3.8" transform="rotate(45 299.2 221.2)"/>
<rect x="243.9" y="214.7" width="2.6" height="2.6" transform="rotate(45 245.2 216)"/>
<rect x="246.2" y="232.9" width="3.2" height="3.2" transform="rotate(45 247.8 234.5)"/>
<rect x="251.8" y="239.3" width="4.4" height="4.4" transform="rotate(45 254 241.5)"/>
<rect x="234.5" y="258.7" width="2.6" height="2.6" transform="rotate(45 235.8 260)"/>
<rect x="233.3" y="215.6" width="3.8" height="3.8" transform="rotate(45 235.2 217.5)"/>
<rect x="245.7" y="226.2" width="2.6" height="2.6" transform="rotate(45 247 227.5)"/>
<rect x="483.2" y="288.7" width="3.6" height="3.6" transform="rotate(45 485 290.5)"/>
<rect x="487" y="297.4" width="3.6" height="3.6" transform="rotate(45 488.8 299.2)"/>
<rect x="488.2" y="328.7" width="3.6" height="3.6" transform="rotate(45 490 330.5)"/>
<rect x="438.2" y="311.2" width="3.6" height="3.6" transform="rotate(45 440 313)"/>
<rect x="434.4" y="347.4" width="3.6" height="3.6" transform="rotate(45 436.2 349.2)"/>
<rect x="429.4" y="312.4" width="3.6" height="3.6" transform="rotate(45 431.2 314.2)"/>
<rect x="413.2" y="308.7" width="3.6" height="3.6" transform="rotate(45 415 310.5)"/>
<rect x="400.7" y="300" width="3.6" height="3.6" transform="rotate(45 402.5 301.8)"/>
<rect x="383.2" y="300" width="3.6" height="3.6" transform="rotate(45 385 301.8)"/>
<rect x="328.2" y="366.2" width="3.6" height="3.6" transform="rotate(45 330 368)"/>
<rect x="312" y="403.7" width="3.6" height="3.6" transform="rotate(45 313.8 405.5)"/>
<rect x="278.2" y="393.2" width="3.6" height="3.6" transform="rotate(45 280 395)"/>
<rect x="603.2" y="338.7" width="3.6" height="3.6" transform="rotate(45 605 340.5)"/>
<rect x="652" y="338.7" width="3.6" height="3.6" transform="rotate(45 653.8 340.5)"/>
<rect x="670.7" y="352.4" width="3.6" height="3.6" transform="rotate(45 672.5 354.2)"/>
<rect x="574.4" y="352.4" width="3.6" height="3.6" transform="rotate(45 576.2 354.2)"/>
<rect x="569.4" y="361.2" width="3.6" height="3.6" transform="rotate(45 571.2 363)"/>
<rect x="539.4" y="381.2" width="3.6" height="3.6" transform="rotate(45 541.2 383)"/>
<rect x="565.7" y="386.2" width="3.6" height="3.6" transform="rotate(45 567.5 388)"/>
<rect x="785.7" y="338.7" width="3.6" height="3.6" transform="rotate(45 787.5 340.5)"/>
<rect x="823.2" y="338.7" width="3.6" height="3.6" transform="rotate(45 825 340.5)"/>
<rect x="787" y="370" width="3.6" height="3.6" transform="rotate(45 788.8 371.8)"/>
<rect x="794.4" y="366.2" width="3.6" height="3.6" transform="rotate(45 796.2 368)"/>
<rect x="884.4" y="332.4" width="3.6" height="3.6" transform="rotate(45 886.2 334.2)"/>
<rect x="822" y="338.7" width="3.6" height="3.6" transform="rotate(45 823.8 340.5)"/>
<rect x="912" y="310" width="3.6" height="3.6" transform="rotate(45 913.8 311.8)"/>
<rect x="923.2" y="298.7" width="3.6" height="3.6" transform="rotate(45 925 300.5)"/>
<rect x="210.7" y="150.7" width="3.6" height="3.6" transform="rotate(45 212.5 152.5)"/>
<rect x="269.4" y="164.4" width="3.6" height="3.6" transform="rotate(45 271.2 166.2)"/>
<rect x="292" y="143.2" width="3.6" height="3.6" transform="rotate(45 293.8 145)"/>
<rect x="203.2" y="150.7" width="3.6" height="3.6" transform="rotate(45 205 152.5)"/>
<rect x="350.7" y="182" width="3.6" height="3.6" transform="rotate(45 352.5 183.8)"/>
<rect x="338.2" y="243.2" width="3.6" height="3.6" transform="rotate(45 340 245)"/>
</g></g>
<g font-family="'Liberation Sans', sans-serif" fill="#000">
<text x="627.2" y="37.8" text-anchor="middle" font-size="22.22" font-weight="bold" letter-spacing="0.05">Spodoptera littoralis: Cold stress units 03/23/2026</text>
<text x="627.4" y="71" text-anchor="middle" font-size="18.06" letter-spacing="0.035" fill="#1a1a1a">Maps and modeling 03/23/2026 by Oregon State University IPPC USPEST.ORG and</text>
<text x="627.1" y="92.6" text-anchor="middle" font-size="18.06" letter-spacing="0.035" fill="#1a1a1a">USDA-APHIS-PPQ; climate data from OSU PRISM Climate Group</text>
<text x="1086.3" y="226.7" font-size="16.67" font-weight="bold" letter-spacing="0.36">Stress Limits</text>
<text x="1086.3" y="297.7" font-size="16.67" font-weight="bold" letter-spacing="0.36">Cold Stress</text>
<text x="1086.3" y="316.3" font-size="16.67" font-weight="bold" letter-spacing="0.36">Units</text>
</g>
<line x1="1087.8" x2="1101.4" y1="244.2" y2="244.2" stroke="#ff00ff" stroke-width="1.1"/>
<line x1="1087.8" x2="1101.4" y1="261.2" y2="261.2" stroke="#0000ff" stroke-width="1.1"/>
<g font-family="'DejaVu Sans', sans-serif" font-size="13.89" fill="#1a1a1a" letter-spacing="0.4">
<text x="1110.5" y="248.8">Stress limit 1</text><text x="1110.5" y="265.7">Stress limit 2</text>
<rect x="1086" y="324.9" width="17" height="17.1" fill="#5E4FA2"/>
<text x="1110.5" y="338.5">0-241</text>
<rect x="1086" y="341.9" width="17" height="17.1" fill="#3288BD"/>
<text x="1110.5" y="355.5">241-482</text>
<rect x="1086" y="358.9" width="17" height="17.1" fill="#66C2A5"/>
<text x="1110.5" y="372.5">482-723</text>
<rect x="1086" y="375.9" width="17" height="17.1" fill="#ABDDA4"/>
<text x="1110.5" y="389.5">723-964</text>
<rect x="1086" y="392.9" width="17" height="17.1" fill="#E6F598"/>
<text x="1110.5" y="406.5">964-1200</text>
<rect x="1086" y="409.9" width="17" height="17.1" fill="#FEE08B"/>
<text x="1110.5" y="423.5">1200-1450</text>
<rect x="1086" y="426.9" width="17" height="17.1" fill="#FDAE61"/>
<text x="1110.5" y="440.5">1450-1690</text>
<rect x="1086" y="443.9" width="17" height="17.1" fill="#F46D43"/>
<text x="1110.5" y="457.5">1690-1930</text>
<rect x="1086" y="460.9" width="17" height="17.1" fill="#D53E4F"/>
<text x="1110.5" y="474.5">1930-2170</text>
<rect x="1086" y="477.9" width="17" height="17.1" fill="#9E0142"/>
<text x="1110.5" y="491.5">2170-2410</text>
</g>
</svg>
</body></html>
